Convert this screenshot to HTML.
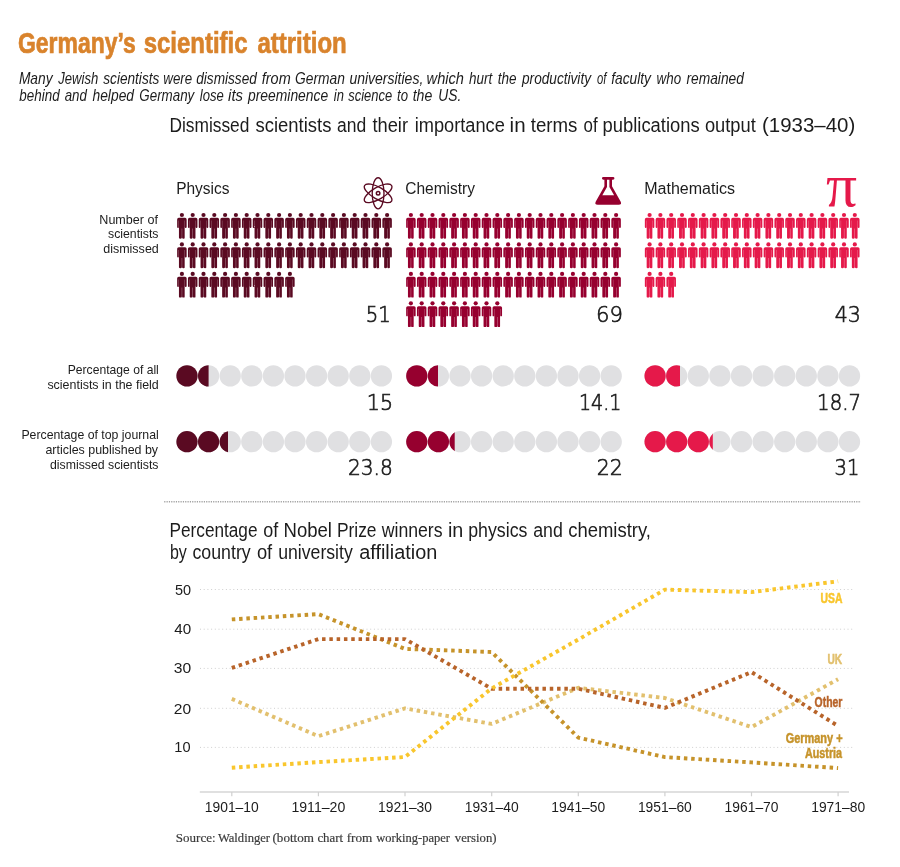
<!DOCTYPE html>
<html lang="en"><head><meta charset="utf-8"><title>Germany’s scientific attrition</title>
<style>
html,body{margin:0;padding:0;background:#fff}
svg{display:block}
text{white-space:pre}
</style></head>
<body>
<svg width="900" height="867" viewBox="0 0 900 867">
<rect width="900" height="867" fill="#fff"/>
<text y="52.9" font-size="29.8" fill="#d9832c" font-weight="bold" font-family="'Liberation Sans', sans-serif" stroke="#d9832c" stroke-width="0.7"><tspan x="18.0" textLength="117.8" lengthAdjust="spacingAndGlyphs">Germany’s</tspan> <tspan x="143.7" textLength="103.9" lengthAdjust="spacingAndGlyphs">scientific</tspan> <tspan x="257.4" textLength="89.4" lengthAdjust="spacingAndGlyphs">attrition</tspan></text>
<text y="84.2" font-size="15.7" fill="#1c1c1c" font-style="italic" font-family="'Liberation Sans', sans-serif"><tspan x="18.9" textLength="33.7" lengthAdjust="spacingAndGlyphs">Many</tspan> <tspan x="58.3" textLength="40.0" lengthAdjust="spacingAndGlyphs">Jewish</tspan> <tspan x="103.3" textLength="56.0" lengthAdjust="spacingAndGlyphs">scientists</tspan> <tspan x="163.3" textLength="28.9" lengthAdjust="spacingAndGlyphs">were</tspan> <tspan x="196.2" textLength="60.7" lengthAdjust="spacingAndGlyphs">dismissed</tspan> <tspan x="261.8" textLength="28.9" lengthAdjust="spacingAndGlyphs">from</tspan> <tspan x="295.1" textLength="49.8" lengthAdjust="spacingAndGlyphs">German</tspan> <tspan x="349.4" textLength="73.9" lengthAdjust="spacingAndGlyphs">universities,</tspan> <tspan x="426.6" textLength="37.4" lengthAdjust="spacingAndGlyphs">which</tspan> <tspan x="469.1" textLength="23.2" lengthAdjust="spacingAndGlyphs">hurt</tspan> <tspan x="497.7" textLength="18.8" lengthAdjust="spacingAndGlyphs">the</tspan> <tspan x="522.0" textLength="69.0" lengthAdjust="spacingAndGlyphs">productivity</tspan> <tspan x="596.9" textLength="9.4" lengthAdjust="spacingAndGlyphs">of</tspan> <tspan x="611.2" textLength="39.8" lengthAdjust="spacingAndGlyphs">faculty</tspan> <tspan x="656.6" textLength="24.5" lengthAdjust="spacingAndGlyphs">who</tspan> <tspan x="686.5" textLength="57.4" lengthAdjust="spacingAndGlyphs">remained</tspan></text>
<text y="100.8" font-size="15.7" fill="#1c1c1c" font-style="italic" font-family="'Liberation Sans', sans-serif"><tspan x="19.3" textLength="40.3" lengthAdjust="spacingAndGlyphs">behind</tspan> <tspan x="64.7" textLength="22.2" lengthAdjust="spacingAndGlyphs">and</tspan> <tspan x="92.5" textLength="41.5" lengthAdjust="spacingAndGlyphs">helped</tspan> <tspan x="139.3" textLength="55.0" lengthAdjust="spacingAndGlyphs">Germany</tspan> <tspan x="199.8" textLength="24.0" lengthAdjust="spacingAndGlyphs">lose</tspan> <tspan x="228.1" textLength="14.9" lengthAdjust="spacingAndGlyphs">its</tspan> <tspan x="248.0" textLength="80.2" lengthAdjust="spacingAndGlyphs">preeminence</tspan> <tspan x="333.8" textLength="10.1" lengthAdjust="spacingAndGlyphs">in</tspan> <tspan x="348.3" textLength="43.9" lengthAdjust="spacingAndGlyphs">science</tspan> <tspan x="397.1" textLength="11.0" lengthAdjust="spacingAndGlyphs">to</tspan> <tspan x="412.7" textLength="19.6" lengthAdjust="spacingAndGlyphs">the</tspan> <tspan x="438.3" textLength="23.0" lengthAdjust="spacingAndGlyphs">US.</tspan></text>
<text y="132.2" font-size="20" fill="#1c1c1c" font-family="'Liberation Sans', sans-serif"><tspan x="169.4" textLength="80.0" lengthAdjust="spacingAndGlyphs">Dismissed</tspan> <tspan x="255.5" textLength="75.9" lengthAdjust="spacingAndGlyphs">scientists</tspan> <tspan x="337.0" textLength="29.2" lengthAdjust="spacingAndGlyphs">and</tspan> <tspan x="372.4" textLength="35.6" lengthAdjust="spacingAndGlyphs">their</tspan> <tspan x="414.7" textLength="90.1" lengthAdjust="spacingAndGlyphs">importance</tspan> <tspan x="509.6" textLength="16.0" lengthAdjust="spacingAndGlyphs">in</tspan> <tspan x="530.7" textLength="46.7" lengthAdjust="spacingAndGlyphs">terms</tspan> <tspan x="583.6" textLength="14.1" lengthAdjust="spacingAndGlyphs">of</tspan> <tspan x="602.5" textLength="97.2" lengthAdjust="spacingAndGlyphs">publications</tspan> <tspan x="704.9" textLength="50.9" lengthAdjust="spacingAndGlyphs">output</tspan> <tspan x="762.0" textLength="93.2" lengthAdjust="spacingAndGlyphs">(1933–40)</tspan></text>
<text x="176.2" y="193.7" font-size="15.8" fill="#1c1c1c" font-family="'Liberation Sans', sans-serif" textLength="53.3" lengthAdjust="spacingAndGlyphs">Physics</text>
<text x="405.2" y="193.7" font-size="15.8" fill="#1c1c1c" font-family="'Liberation Sans', sans-serif" textLength="69.8" lengthAdjust="spacingAndGlyphs">Chemistry</text>
<text x="644.2" y="193.7" font-size="15.8" fill="#1c1c1c" font-family="'Liberation Sans', sans-serif" textLength="90.9" lengthAdjust="spacingAndGlyphs">Mathematics</text>
<text x="99.3" y="223.6" font-size="13" fill="#1c1c1c" font-family="'Liberation Sans', sans-serif" textLength="58.7" lengthAdjust="spacingAndGlyphs">Number of</text>
<text x="108.0" y="237.7" font-size="13" fill="#1c1c1c" font-family="'Liberation Sans', sans-serif" textLength="50.5" lengthAdjust="spacingAndGlyphs">scientists</text>
<text x="103.2" y="252.6" font-size="13" fill="#1c1c1c" font-family="'Liberation Sans', sans-serif" textLength="55.6" lengthAdjust="spacingAndGlyphs">dismissed</text>
<text x="67.7" y="374.2" font-size="13" fill="#1c1c1c" font-family="'Liberation Sans', sans-serif" textLength="91.1" lengthAdjust="spacingAndGlyphs">Percentage of all</text>
<text x="47.4" y="388.5" font-size="13" fill="#1c1c1c" font-family="'Liberation Sans', sans-serif" textLength="111.4" lengthAdjust="spacingAndGlyphs">scientists in the field</text>
<text x="21.4" y="439.4" font-size="13" fill="#1c1c1c" font-family="'Liberation Sans', sans-serif" textLength="137.4" lengthAdjust="spacingAndGlyphs">Percentage of top journal</text>
<text x="45.4" y="454.1" font-size="13" fill="#1c1c1c" font-family="'Liberation Sans', sans-serif" textLength="112.7" lengthAdjust="spacingAndGlyphs">articles published by</text>
<text x="50.0" y="468.8" font-size="13" fill="#1c1c1c" font-family="'Liberation Sans', sans-serif" textLength="108.5" lengthAdjust="spacingAndGlyphs">dismissed scientists</text>
<g fill="#5a0a22">
<circle cx="181.90" cy="215.00" r="2.1"/><path d="M178.75 217.80H185.05Q186.65 217.80 186.65 219.40V227.10Q186.65 228.00 185.75 228.00Q184.85 228.00 184.85 227.10V220.60h-0.18V237.80Q184.85 238.70 183.50 238.70Q182.10 238.70 182.10 237.80V228.60h-0.25V237.80Q181.70 238.70 180.30 238.70Q178.95 238.70 178.95 237.80V220.60h-0.18V227.10Q178.95 228.00 178.05 228.00Q177.15 228.00 177.15 227.10V219.40Q177.15 217.80 178.75 217.80Z"/>
<circle cx="192.70" cy="215.00" r="2.1"/><path d="M189.55 217.80H195.85Q197.45 217.80 197.45 219.40V227.10Q197.45 228.00 196.55 228.00Q195.65 228.00 195.65 227.10V220.60h-0.18V237.80Q195.65 238.70 194.30 238.70Q192.90 238.70 192.90 237.80V228.60h-0.25V237.80Q192.50 238.70 191.10 238.70Q189.75 238.70 189.75 237.80V220.60h-0.18V227.10Q189.75 228.00 188.85 228.00Q187.95 228.00 187.95 227.10V219.40Q187.95 217.80 189.55 217.80Z"/>
<circle cx="203.50" cy="215.00" r="2.1"/><path d="M200.35 217.80H206.65Q208.25 217.80 208.25 219.40V227.10Q208.25 228.00 207.35 228.00Q206.45 228.00 206.45 227.10V220.60h-0.18V237.80Q206.45 238.70 205.10 238.70Q203.70 238.70 203.70 237.80V228.60h-0.25V237.80Q203.30 238.70 201.90 238.70Q200.55 238.70 200.55 237.80V220.60h-0.18V227.10Q200.55 228.00 199.65 228.00Q198.75 228.00 198.75 227.10V219.40Q198.75 217.80 200.35 217.80Z"/>
<circle cx="214.30" cy="215.00" r="2.1"/><path d="M211.15 217.80H217.45Q219.05 217.80 219.05 219.40V227.10Q219.05 228.00 218.15 228.00Q217.25 228.00 217.25 227.10V220.60h-0.18V237.80Q217.25 238.70 215.90 238.70Q214.50 238.70 214.50 237.80V228.60h-0.25V237.80Q214.10 238.70 212.70 238.70Q211.35 238.70 211.35 237.80V220.60h-0.18V227.10Q211.35 228.00 210.45 228.00Q209.55 228.00 209.55 227.10V219.40Q209.55 217.80 211.15 217.80Z"/>
<circle cx="225.10" cy="215.00" r="2.1"/><path d="M221.95 217.80H228.25Q229.85 217.80 229.85 219.40V227.10Q229.85 228.00 228.95 228.00Q228.05 228.00 228.05 227.10V220.60h-0.18V237.80Q228.05 238.70 226.70 238.70Q225.30 238.70 225.30 237.80V228.60h-0.25V237.80Q224.90 238.70 223.50 238.70Q222.15 238.70 222.15 237.80V220.60h-0.18V227.10Q222.15 228.00 221.25 228.00Q220.35 228.00 220.35 227.10V219.40Q220.35 217.80 221.95 217.80Z"/>
<circle cx="235.90" cy="215.00" r="2.1"/><path d="M232.75 217.80H239.05Q240.65 217.80 240.65 219.40V227.10Q240.65 228.00 239.75 228.00Q238.85 228.00 238.85 227.10V220.60h-0.18V237.80Q238.85 238.70 237.50 238.70Q236.10 238.70 236.10 237.80V228.60h-0.25V237.80Q235.70 238.70 234.30 238.70Q232.95 238.70 232.95 237.80V220.60h-0.18V227.10Q232.95 228.00 232.05 228.00Q231.15 228.00 231.15 227.10V219.40Q231.15 217.80 232.75 217.80Z"/>
<circle cx="246.70" cy="215.00" r="2.1"/><path d="M243.55 217.80H249.85Q251.45 217.80 251.45 219.40V227.10Q251.45 228.00 250.55 228.00Q249.65 228.00 249.65 227.10V220.60h-0.18V237.80Q249.65 238.70 248.30 238.70Q246.90 238.70 246.90 237.80V228.60h-0.25V237.80Q246.50 238.70 245.10 238.70Q243.75 238.70 243.75 237.80V220.60h-0.18V227.10Q243.75 228.00 242.85 228.00Q241.95 228.00 241.95 227.10V219.40Q241.95 217.80 243.55 217.80Z"/>
<circle cx="257.50" cy="215.00" r="2.1"/><path d="M254.35 217.80H260.65Q262.25 217.80 262.25 219.40V227.10Q262.25 228.00 261.35 228.00Q260.45 228.00 260.45 227.10V220.60h-0.18V237.80Q260.45 238.70 259.10 238.70Q257.70 238.70 257.70 237.80V228.60h-0.25V237.80Q257.30 238.70 255.90 238.70Q254.55 238.70 254.55 237.80V220.60h-0.18V227.10Q254.55 228.00 253.65 228.00Q252.75 228.00 252.75 227.10V219.40Q252.75 217.80 254.35 217.80Z"/>
<circle cx="268.30" cy="215.00" r="2.1"/><path d="M265.15 217.80H271.45Q273.05 217.80 273.05 219.40V227.10Q273.05 228.00 272.15 228.00Q271.25 228.00 271.25 227.10V220.60h-0.18V237.80Q271.25 238.70 269.90 238.70Q268.50 238.70 268.50 237.80V228.60h-0.25V237.80Q268.10 238.70 266.70 238.70Q265.35 238.70 265.35 237.80V220.60h-0.18V227.10Q265.35 228.00 264.45 228.00Q263.55 228.00 263.55 227.10V219.40Q263.55 217.80 265.15 217.80Z"/>
<circle cx="279.10" cy="215.00" r="2.1"/><path d="M275.95 217.80H282.25Q283.85 217.80 283.85 219.40V227.10Q283.85 228.00 282.95 228.00Q282.05 228.00 282.05 227.10V220.60h-0.18V237.80Q282.05 238.70 280.70 238.70Q279.30 238.70 279.30 237.80V228.60h-0.25V237.80Q278.90 238.70 277.50 238.70Q276.15 238.70 276.15 237.80V220.60h-0.18V227.10Q276.15 228.00 275.25 228.00Q274.35 228.00 274.35 227.10V219.40Q274.35 217.80 275.95 217.80Z"/>
<circle cx="289.90" cy="215.00" r="2.1"/><path d="M286.75 217.80H293.05Q294.65 217.80 294.65 219.40V227.10Q294.65 228.00 293.75 228.00Q292.85 228.00 292.85 227.10V220.60h-0.18V237.80Q292.85 238.70 291.50 238.70Q290.10 238.70 290.10 237.80V228.60h-0.25V237.80Q289.70 238.70 288.30 238.70Q286.95 238.70 286.95 237.80V220.60h-0.18V227.10Q286.95 228.00 286.05 228.00Q285.15 228.00 285.15 227.10V219.40Q285.15 217.80 286.75 217.80Z"/>
<circle cx="300.70" cy="215.00" r="2.1"/><path d="M297.55 217.80H303.85Q305.45 217.80 305.45 219.40V227.10Q305.45 228.00 304.55 228.00Q303.65 228.00 303.65 227.10V220.60h-0.18V237.80Q303.65 238.70 302.30 238.70Q300.90 238.70 300.90 237.80V228.60h-0.25V237.80Q300.50 238.70 299.10 238.70Q297.75 238.70 297.75 237.80V220.60h-0.18V227.10Q297.75 228.00 296.85 228.00Q295.95 228.00 295.95 227.10V219.40Q295.95 217.80 297.55 217.80Z"/>
<circle cx="311.50" cy="215.00" r="2.1"/><path d="M308.35 217.80H314.65Q316.25 217.80 316.25 219.40V227.10Q316.25 228.00 315.35 228.00Q314.45 228.00 314.45 227.10V220.60h-0.18V237.80Q314.45 238.70 313.10 238.70Q311.70 238.70 311.70 237.80V228.60h-0.25V237.80Q311.30 238.70 309.90 238.70Q308.55 238.70 308.55 237.80V220.60h-0.18V227.10Q308.55 228.00 307.65 228.00Q306.75 228.00 306.75 227.10V219.40Q306.75 217.80 308.35 217.80Z"/>
<circle cx="322.30" cy="215.00" r="2.1"/><path d="M319.15 217.80H325.45Q327.05 217.80 327.05 219.40V227.10Q327.05 228.00 326.15 228.00Q325.25 228.00 325.25 227.10V220.60h-0.18V237.80Q325.25 238.70 323.90 238.70Q322.50 238.70 322.50 237.80V228.60h-0.25V237.80Q322.10 238.70 320.70 238.70Q319.35 238.70 319.35 237.80V220.60h-0.18V227.10Q319.35 228.00 318.45 228.00Q317.55 228.00 317.55 227.10V219.40Q317.55 217.80 319.15 217.80Z"/>
<circle cx="333.10" cy="215.00" r="2.1"/><path d="M329.95 217.80H336.25Q337.85 217.80 337.85 219.40V227.10Q337.85 228.00 336.95 228.00Q336.05 228.00 336.05 227.10V220.60h-0.18V237.80Q336.05 238.70 334.70 238.70Q333.30 238.70 333.30 237.80V228.60h-0.25V237.80Q332.90 238.70 331.50 238.70Q330.15 238.70 330.15 237.80V220.60h-0.18V227.10Q330.15 228.00 329.25 228.00Q328.35 228.00 328.35 227.10V219.40Q328.35 217.80 329.95 217.80Z"/>
<circle cx="343.90" cy="215.00" r="2.1"/><path d="M340.75 217.80H347.05Q348.65 217.80 348.65 219.40V227.10Q348.65 228.00 347.75 228.00Q346.85 228.00 346.85 227.10V220.60h-0.18V237.80Q346.85 238.70 345.50 238.70Q344.10 238.70 344.10 237.80V228.60h-0.25V237.80Q343.70 238.70 342.30 238.70Q340.95 238.70 340.95 237.80V220.60h-0.18V227.10Q340.95 228.00 340.05 228.00Q339.15 228.00 339.15 227.10V219.40Q339.15 217.80 340.75 217.80Z"/>
<circle cx="354.70" cy="215.00" r="2.1"/><path d="M351.55 217.80H357.85Q359.45 217.80 359.45 219.40V227.10Q359.45 228.00 358.55 228.00Q357.65 228.00 357.65 227.10V220.60h-0.18V237.80Q357.65 238.70 356.30 238.70Q354.90 238.70 354.90 237.80V228.60h-0.25V237.80Q354.50 238.70 353.10 238.70Q351.75 238.70 351.75 237.80V220.60h-0.18V227.10Q351.75 228.00 350.85 228.00Q349.95 228.00 349.95 227.10V219.40Q349.95 217.80 351.55 217.80Z"/>
<circle cx="365.50" cy="215.00" r="2.1"/><path d="M362.35 217.80H368.65Q370.25 217.80 370.25 219.40V227.10Q370.25 228.00 369.35 228.00Q368.45 228.00 368.45 227.10V220.60h-0.18V237.80Q368.45 238.70 367.10 238.70Q365.70 238.70 365.70 237.80V228.60h-0.25V237.80Q365.30 238.70 363.90 238.70Q362.55 238.70 362.55 237.80V220.60h-0.18V227.10Q362.55 228.00 361.65 228.00Q360.75 228.00 360.75 227.10V219.40Q360.75 217.80 362.35 217.80Z"/>
<circle cx="376.30" cy="215.00" r="2.1"/><path d="M373.15 217.80H379.45Q381.05 217.80 381.05 219.40V227.10Q381.05 228.00 380.15 228.00Q379.25 228.00 379.25 227.10V220.60h-0.18V237.80Q379.25 238.70 377.90 238.70Q376.50 238.70 376.50 237.80V228.60h-0.25V237.80Q376.10 238.70 374.70 238.70Q373.35 238.70 373.35 237.80V220.60h-0.18V227.10Q373.35 228.00 372.45 228.00Q371.55 228.00 371.55 227.10V219.40Q371.55 217.80 373.15 217.80Z"/>
<circle cx="387.10" cy="215.00" r="2.1"/><path d="M383.95 217.80H390.25Q391.85 217.80 391.85 219.40V227.10Q391.85 228.00 390.95 228.00Q390.05 228.00 390.05 227.10V220.60h-0.18V237.80Q390.05 238.70 388.70 238.70Q387.30 238.70 387.30 237.80V228.60h-0.25V237.80Q386.90 238.70 385.50 238.70Q384.15 238.70 384.15 237.80V220.60h-0.18V227.10Q384.15 228.00 383.25 228.00Q382.35 228.00 382.35 227.10V219.40Q382.35 217.80 383.95 217.80Z"/>
<circle cx="181.90" cy="244.45" r="2.1"/><path d="M178.75 247.25H185.05Q186.65 247.25 186.65 248.85V256.55Q186.65 257.45 185.75 257.45Q184.85 257.45 184.85 256.55V250.05h-0.18V267.25Q184.85 268.15 183.50 268.15Q182.10 268.15 182.10 267.25V258.05h-0.25V267.25Q181.70 268.15 180.30 268.15Q178.95 268.15 178.95 267.25V250.05h-0.18V256.55Q178.95 257.45 178.05 257.45Q177.15 257.45 177.15 256.55V248.85Q177.15 247.25 178.75 247.25Z"/>
<circle cx="192.70" cy="244.45" r="2.1"/><path d="M189.55 247.25H195.85Q197.45 247.25 197.45 248.85V256.55Q197.45 257.45 196.55 257.45Q195.65 257.45 195.65 256.55V250.05h-0.18V267.25Q195.65 268.15 194.30 268.15Q192.90 268.15 192.90 267.25V258.05h-0.25V267.25Q192.50 268.15 191.10 268.15Q189.75 268.15 189.75 267.25V250.05h-0.18V256.55Q189.75 257.45 188.85 257.45Q187.95 257.45 187.95 256.55V248.85Q187.95 247.25 189.55 247.25Z"/>
<circle cx="203.50" cy="244.45" r="2.1"/><path d="M200.35 247.25H206.65Q208.25 247.25 208.25 248.85V256.55Q208.25 257.45 207.35 257.45Q206.45 257.45 206.45 256.55V250.05h-0.18V267.25Q206.45 268.15 205.10 268.15Q203.70 268.15 203.70 267.25V258.05h-0.25V267.25Q203.30 268.15 201.90 268.15Q200.55 268.15 200.55 267.25V250.05h-0.18V256.55Q200.55 257.45 199.65 257.45Q198.75 257.45 198.75 256.55V248.85Q198.75 247.25 200.35 247.25Z"/>
<circle cx="214.30" cy="244.45" r="2.1"/><path d="M211.15 247.25H217.45Q219.05 247.25 219.05 248.85V256.55Q219.05 257.45 218.15 257.45Q217.25 257.45 217.25 256.55V250.05h-0.18V267.25Q217.25 268.15 215.90 268.15Q214.50 268.15 214.50 267.25V258.05h-0.25V267.25Q214.10 268.15 212.70 268.15Q211.35 268.15 211.35 267.25V250.05h-0.18V256.55Q211.35 257.45 210.45 257.45Q209.55 257.45 209.55 256.55V248.85Q209.55 247.25 211.15 247.25Z"/>
<circle cx="225.10" cy="244.45" r="2.1"/><path d="M221.95 247.25H228.25Q229.85 247.25 229.85 248.85V256.55Q229.85 257.45 228.95 257.45Q228.05 257.45 228.05 256.55V250.05h-0.18V267.25Q228.05 268.15 226.70 268.15Q225.30 268.15 225.30 267.25V258.05h-0.25V267.25Q224.90 268.15 223.50 268.15Q222.15 268.15 222.15 267.25V250.05h-0.18V256.55Q222.15 257.45 221.25 257.45Q220.35 257.45 220.35 256.55V248.85Q220.35 247.25 221.95 247.25Z"/>
<circle cx="235.90" cy="244.45" r="2.1"/><path d="M232.75 247.25H239.05Q240.65 247.25 240.65 248.85V256.55Q240.65 257.45 239.75 257.45Q238.85 257.45 238.85 256.55V250.05h-0.18V267.25Q238.85 268.15 237.50 268.15Q236.10 268.15 236.10 267.25V258.05h-0.25V267.25Q235.70 268.15 234.30 268.15Q232.95 268.15 232.95 267.25V250.05h-0.18V256.55Q232.95 257.45 232.05 257.45Q231.15 257.45 231.15 256.55V248.85Q231.15 247.25 232.75 247.25Z"/>
<circle cx="246.70" cy="244.45" r="2.1"/><path d="M243.55 247.25H249.85Q251.45 247.25 251.45 248.85V256.55Q251.45 257.45 250.55 257.45Q249.65 257.45 249.65 256.55V250.05h-0.18V267.25Q249.65 268.15 248.30 268.15Q246.90 268.15 246.90 267.25V258.05h-0.25V267.25Q246.50 268.15 245.10 268.15Q243.75 268.15 243.75 267.25V250.05h-0.18V256.55Q243.75 257.45 242.85 257.45Q241.95 257.45 241.95 256.55V248.85Q241.95 247.25 243.55 247.25Z"/>
<circle cx="257.50" cy="244.45" r="2.1"/><path d="M254.35 247.25H260.65Q262.25 247.25 262.25 248.85V256.55Q262.25 257.45 261.35 257.45Q260.45 257.45 260.45 256.55V250.05h-0.18V267.25Q260.45 268.15 259.10 268.15Q257.70 268.15 257.70 267.25V258.05h-0.25V267.25Q257.30 268.15 255.90 268.15Q254.55 268.15 254.55 267.25V250.05h-0.18V256.55Q254.55 257.45 253.65 257.45Q252.75 257.45 252.75 256.55V248.85Q252.75 247.25 254.35 247.25Z"/>
<circle cx="268.30" cy="244.45" r="2.1"/><path d="M265.15 247.25H271.45Q273.05 247.25 273.05 248.85V256.55Q273.05 257.45 272.15 257.45Q271.25 257.45 271.25 256.55V250.05h-0.18V267.25Q271.25 268.15 269.90 268.15Q268.50 268.15 268.50 267.25V258.05h-0.25V267.25Q268.10 268.15 266.70 268.15Q265.35 268.15 265.35 267.25V250.05h-0.18V256.55Q265.35 257.45 264.45 257.45Q263.55 257.45 263.55 256.55V248.85Q263.55 247.25 265.15 247.25Z"/>
<circle cx="279.10" cy="244.45" r="2.1"/><path d="M275.95 247.25H282.25Q283.85 247.25 283.85 248.85V256.55Q283.85 257.45 282.95 257.45Q282.05 257.45 282.05 256.55V250.05h-0.18V267.25Q282.05 268.15 280.70 268.15Q279.30 268.15 279.30 267.25V258.05h-0.25V267.25Q278.90 268.15 277.50 268.15Q276.15 268.15 276.15 267.25V250.05h-0.18V256.55Q276.15 257.45 275.25 257.45Q274.35 257.45 274.35 256.55V248.85Q274.35 247.25 275.95 247.25Z"/>
<circle cx="289.90" cy="244.45" r="2.1"/><path d="M286.75 247.25H293.05Q294.65 247.25 294.65 248.85V256.55Q294.65 257.45 293.75 257.45Q292.85 257.45 292.85 256.55V250.05h-0.18V267.25Q292.85 268.15 291.50 268.15Q290.10 268.15 290.10 267.25V258.05h-0.25V267.25Q289.70 268.15 288.30 268.15Q286.95 268.15 286.95 267.25V250.05h-0.18V256.55Q286.95 257.45 286.05 257.45Q285.15 257.45 285.15 256.55V248.85Q285.15 247.25 286.75 247.25Z"/>
<circle cx="300.70" cy="244.45" r="2.1"/><path d="M297.55 247.25H303.85Q305.45 247.25 305.45 248.85V256.55Q305.45 257.45 304.55 257.45Q303.65 257.45 303.65 256.55V250.05h-0.18V267.25Q303.65 268.15 302.30 268.15Q300.90 268.15 300.90 267.25V258.05h-0.25V267.25Q300.50 268.15 299.10 268.15Q297.75 268.15 297.75 267.25V250.05h-0.18V256.55Q297.75 257.45 296.85 257.45Q295.95 257.45 295.95 256.55V248.85Q295.95 247.25 297.55 247.25Z"/>
<circle cx="311.50" cy="244.45" r="2.1"/><path d="M308.35 247.25H314.65Q316.25 247.25 316.25 248.85V256.55Q316.25 257.45 315.35 257.45Q314.45 257.45 314.45 256.55V250.05h-0.18V267.25Q314.45 268.15 313.10 268.15Q311.70 268.15 311.70 267.25V258.05h-0.25V267.25Q311.30 268.15 309.90 268.15Q308.55 268.15 308.55 267.25V250.05h-0.18V256.55Q308.55 257.45 307.65 257.45Q306.75 257.45 306.75 256.55V248.85Q306.75 247.25 308.35 247.25Z"/>
<circle cx="322.30" cy="244.45" r="2.1"/><path d="M319.15 247.25H325.45Q327.05 247.25 327.05 248.85V256.55Q327.05 257.45 326.15 257.45Q325.25 257.45 325.25 256.55V250.05h-0.18V267.25Q325.25 268.15 323.90 268.15Q322.50 268.15 322.50 267.25V258.05h-0.25V267.25Q322.10 268.15 320.70 268.15Q319.35 268.15 319.35 267.25V250.05h-0.18V256.55Q319.35 257.45 318.45 257.45Q317.55 257.45 317.55 256.55V248.85Q317.55 247.25 319.15 247.25Z"/>
<circle cx="333.10" cy="244.45" r="2.1"/><path d="M329.95 247.25H336.25Q337.85 247.25 337.85 248.85V256.55Q337.85 257.45 336.95 257.45Q336.05 257.45 336.05 256.55V250.05h-0.18V267.25Q336.05 268.15 334.70 268.15Q333.30 268.15 333.30 267.25V258.05h-0.25V267.25Q332.90 268.15 331.50 268.15Q330.15 268.15 330.15 267.25V250.05h-0.18V256.55Q330.15 257.45 329.25 257.45Q328.35 257.45 328.35 256.55V248.85Q328.35 247.25 329.95 247.25Z"/>
<circle cx="343.90" cy="244.45" r="2.1"/><path d="M340.75 247.25H347.05Q348.65 247.25 348.65 248.85V256.55Q348.65 257.45 347.75 257.45Q346.85 257.45 346.85 256.55V250.05h-0.18V267.25Q346.85 268.15 345.50 268.15Q344.10 268.15 344.10 267.25V258.05h-0.25V267.25Q343.70 268.15 342.30 268.15Q340.95 268.15 340.95 267.25V250.05h-0.18V256.55Q340.95 257.45 340.05 257.45Q339.15 257.45 339.15 256.55V248.85Q339.15 247.25 340.75 247.25Z"/>
<circle cx="354.70" cy="244.45" r="2.1"/><path d="M351.55 247.25H357.85Q359.45 247.25 359.45 248.85V256.55Q359.45 257.45 358.55 257.45Q357.65 257.45 357.65 256.55V250.05h-0.18V267.25Q357.65 268.15 356.30 268.15Q354.90 268.15 354.90 267.25V258.05h-0.25V267.25Q354.50 268.15 353.10 268.15Q351.75 268.15 351.75 267.25V250.05h-0.18V256.55Q351.75 257.45 350.85 257.45Q349.95 257.45 349.95 256.55V248.85Q349.95 247.25 351.55 247.25Z"/>
<circle cx="365.50" cy="244.45" r="2.1"/><path d="M362.35 247.25H368.65Q370.25 247.25 370.25 248.85V256.55Q370.25 257.45 369.35 257.45Q368.45 257.45 368.45 256.55V250.05h-0.18V267.25Q368.45 268.15 367.10 268.15Q365.70 268.15 365.70 267.25V258.05h-0.25V267.25Q365.30 268.15 363.90 268.15Q362.55 268.15 362.55 267.25V250.05h-0.18V256.55Q362.55 257.45 361.65 257.45Q360.75 257.45 360.75 256.55V248.85Q360.75 247.25 362.35 247.25Z"/>
<circle cx="376.30" cy="244.45" r="2.1"/><path d="M373.15 247.25H379.45Q381.05 247.25 381.05 248.85V256.55Q381.05 257.45 380.15 257.45Q379.25 257.45 379.25 256.55V250.05h-0.18V267.25Q379.25 268.15 377.90 268.15Q376.50 268.15 376.50 267.25V258.05h-0.25V267.25Q376.10 268.15 374.70 268.15Q373.35 268.15 373.35 267.25V250.05h-0.18V256.55Q373.35 257.45 372.45 257.45Q371.55 257.45 371.55 256.55V248.85Q371.55 247.25 373.15 247.25Z"/>
<circle cx="387.10" cy="244.45" r="2.1"/><path d="M383.95 247.25H390.25Q391.85 247.25 391.85 248.85V256.55Q391.85 257.45 390.95 257.45Q390.05 257.45 390.05 256.55V250.05h-0.18V267.25Q390.05 268.15 388.70 268.15Q387.30 268.15 387.30 267.25V258.05h-0.25V267.25Q386.90 268.15 385.50 268.15Q384.15 268.15 384.15 267.25V250.05h-0.18V256.55Q384.15 257.45 383.25 257.45Q382.35 257.45 382.35 256.55V248.85Q382.35 247.25 383.95 247.25Z"/>
<circle cx="181.90" cy="273.90" r="2.1"/><path d="M178.75 276.70H185.05Q186.65 276.70 186.65 278.30V286.00Q186.65 286.90 185.75 286.90Q184.85 286.90 184.85 286.00V279.50h-0.18V296.70Q184.85 297.60 183.50 297.60Q182.10 297.60 182.10 296.70V287.50h-0.25V296.70Q181.70 297.60 180.30 297.60Q178.95 297.60 178.95 296.70V279.50h-0.18V286.00Q178.95 286.90 178.05 286.90Q177.15 286.90 177.15 286.00V278.30Q177.15 276.70 178.75 276.70Z"/>
<circle cx="192.70" cy="273.90" r="2.1"/><path d="M189.55 276.70H195.85Q197.45 276.70 197.45 278.30V286.00Q197.45 286.90 196.55 286.90Q195.65 286.90 195.65 286.00V279.50h-0.18V296.70Q195.65 297.60 194.30 297.60Q192.90 297.60 192.90 296.70V287.50h-0.25V296.70Q192.50 297.60 191.10 297.60Q189.75 297.60 189.75 296.70V279.50h-0.18V286.00Q189.75 286.90 188.85 286.90Q187.95 286.90 187.95 286.00V278.30Q187.95 276.70 189.55 276.70Z"/>
<circle cx="203.50" cy="273.90" r="2.1"/><path d="M200.35 276.70H206.65Q208.25 276.70 208.25 278.30V286.00Q208.25 286.90 207.35 286.90Q206.45 286.90 206.45 286.00V279.50h-0.18V296.70Q206.45 297.60 205.10 297.60Q203.70 297.60 203.70 296.70V287.50h-0.25V296.70Q203.30 297.60 201.90 297.60Q200.55 297.60 200.55 296.70V279.50h-0.18V286.00Q200.55 286.90 199.65 286.90Q198.75 286.90 198.75 286.00V278.30Q198.75 276.70 200.35 276.70Z"/>
<circle cx="214.30" cy="273.90" r="2.1"/><path d="M211.15 276.70H217.45Q219.05 276.70 219.05 278.30V286.00Q219.05 286.90 218.15 286.90Q217.25 286.90 217.25 286.00V279.50h-0.18V296.70Q217.25 297.60 215.90 297.60Q214.50 297.60 214.50 296.70V287.50h-0.25V296.70Q214.10 297.60 212.70 297.60Q211.35 297.60 211.35 296.70V279.50h-0.18V286.00Q211.35 286.90 210.45 286.90Q209.55 286.90 209.55 286.00V278.30Q209.55 276.70 211.15 276.70Z"/>
<circle cx="225.10" cy="273.90" r="2.1"/><path d="M221.95 276.70H228.25Q229.85 276.70 229.85 278.30V286.00Q229.85 286.90 228.95 286.90Q228.05 286.90 228.05 286.00V279.50h-0.18V296.70Q228.05 297.60 226.70 297.60Q225.30 297.60 225.30 296.70V287.50h-0.25V296.70Q224.90 297.60 223.50 297.60Q222.15 297.60 222.15 296.70V279.50h-0.18V286.00Q222.15 286.90 221.25 286.90Q220.35 286.90 220.35 286.00V278.30Q220.35 276.70 221.95 276.70Z"/>
<circle cx="235.90" cy="273.90" r="2.1"/><path d="M232.75 276.70H239.05Q240.65 276.70 240.65 278.30V286.00Q240.65 286.90 239.75 286.90Q238.85 286.90 238.85 286.00V279.50h-0.18V296.70Q238.85 297.60 237.50 297.60Q236.10 297.60 236.10 296.70V287.50h-0.25V296.70Q235.70 297.60 234.30 297.60Q232.95 297.60 232.95 296.70V279.50h-0.18V286.00Q232.95 286.90 232.05 286.90Q231.15 286.90 231.15 286.00V278.30Q231.15 276.70 232.75 276.70Z"/>
<circle cx="246.70" cy="273.90" r="2.1"/><path d="M243.55 276.70H249.85Q251.45 276.70 251.45 278.30V286.00Q251.45 286.90 250.55 286.90Q249.65 286.90 249.65 286.00V279.50h-0.18V296.70Q249.65 297.60 248.30 297.60Q246.90 297.60 246.90 296.70V287.50h-0.25V296.70Q246.50 297.60 245.10 297.60Q243.75 297.60 243.75 296.70V279.50h-0.18V286.00Q243.75 286.90 242.85 286.90Q241.95 286.90 241.95 286.00V278.30Q241.95 276.70 243.55 276.70Z"/>
<circle cx="257.50" cy="273.90" r="2.1"/><path d="M254.35 276.70H260.65Q262.25 276.70 262.25 278.30V286.00Q262.25 286.90 261.35 286.90Q260.45 286.90 260.45 286.00V279.50h-0.18V296.70Q260.45 297.60 259.10 297.60Q257.70 297.60 257.70 296.70V287.50h-0.25V296.70Q257.30 297.60 255.90 297.60Q254.55 297.60 254.55 296.70V279.50h-0.18V286.00Q254.55 286.90 253.65 286.90Q252.75 286.90 252.75 286.00V278.30Q252.75 276.70 254.35 276.70Z"/>
<circle cx="268.30" cy="273.90" r="2.1"/><path d="M265.15 276.70H271.45Q273.05 276.70 273.05 278.30V286.00Q273.05 286.90 272.15 286.90Q271.25 286.90 271.25 286.00V279.50h-0.18V296.70Q271.25 297.60 269.90 297.60Q268.50 297.60 268.50 296.70V287.50h-0.25V296.70Q268.10 297.60 266.70 297.60Q265.35 297.60 265.35 296.70V279.50h-0.18V286.00Q265.35 286.90 264.45 286.90Q263.55 286.90 263.55 286.00V278.30Q263.55 276.70 265.15 276.70Z"/>
<circle cx="279.10" cy="273.90" r="2.1"/><path d="M275.95 276.70H282.25Q283.85 276.70 283.85 278.30V286.00Q283.85 286.90 282.95 286.90Q282.05 286.90 282.05 286.00V279.50h-0.18V296.70Q282.05 297.60 280.70 297.60Q279.30 297.60 279.30 296.70V287.50h-0.25V296.70Q278.90 297.60 277.50 297.60Q276.15 297.60 276.15 296.70V279.50h-0.18V286.00Q276.15 286.90 275.25 286.90Q274.35 286.90 274.35 286.00V278.30Q274.35 276.70 275.95 276.70Z"/>
<circle cx="289.90" cy="273.90" r="2.1"/><path d="M286.75 276.70H293.05Q294.65 276.70 294.65 278.30V286.00Q294.65 286.90 293.75 286.90Q292.85 286.90 292.85 286.00V279.50h-0.18V296.70Q292.85 297.60 291.50 297.60Q290.10 297.60 290.10 296.70V287.50h-0.25V296.70Q289.70 297.60 288.30 297.60Q286.95 297.60 286.95 296.70V279.50h-0.18V286.00Q286.95 286.90 286.05 286.90Q285.15 286.90 285.15 286.00V278.30Q285.15 276.70 286.75 276.70Z"/>
</g>
<g fill="#96002f">
<circle cx="410.90" cy="215.00" r="2.1"/><path d="M407.75 217.80H414.05Q415.65 217.80 415.65 219.40V227.10Q415.65 228.00 414.75 228.00Q413.85 228.00 413.85 227.10V220.60h-0.18V237.80Q413.85 238.70 412.50 238.70Q411.10 238.70 411.10 237.80V228.60h-0.25V237.80Q410.70 238.70 409.30 238.70Q407.95 238.70 407.95 237.80V220.60h-0.18V227.10Q407.95 228.00 407.05 228.00Q406.15 228.00 406.15 227.10V219.40Q406.15 217.80 407.75 217.80Z"/>
<circle cx="421.70" cy="215.00" r="2.1"/><path d="M418.55 217.80H424.85Q426.45 217.80 426.45 219.40V227.10Q426.45 228.00 425.55 228.00Q424.65 228.00 424.65 227.10V220.60h-0.18V237.80Q424.65 238.70 423.30 238.70Q421.90 238.70 421.90 237.80V228.60h-0.25V237.80Q421.50 238.70 420.10 238.70Q418.75 238.70 418.75 237.80V220.60h-0.18V227.10Q418.75 228.00 417.85 228.00Q416.95 228.00 416.95 227.10V219.40Q416.95 217.80 418.55 217.80Z"/>
<circle cx="432.50" cy="215.00" r="2.1"/><path d="M429.35 217.80H435.65Q437.25 217.80 437.25 219.40V227.10Q437.25 228.00 436.35 228.00Q435.45 228.00 435.45 227.10V220.60h-0.18V237.80Q435.45 238.70 434.10 238.70Q432.70 238.70 432.70 237.80V228.60h-0.25V237.80Q432.30 238.70 430.90 238.70Q429.55 238.70 429.55 237.80V220.60h-0.18V227.10Q429.55 228.00 428.65 228.00Q427.75 228.00 427.75 227.10V219.40Q427.75 217.80 429.35 217.80Z"/>
<circle cx="443.30" cy="215.00" r="2.1"/><path d="M440.15 217.80H446.45Q448.05 217.80 448.05 219.40V227.10Q448.05 228.00 447.15 228.00Q446.25 228.00 446.25 227.10V220.60h-0.18V237.80Q446.25 238.70 444.90 238.70Q443.50 238.70 443.50 237.80V228.60h-0.25V237.80Q443.10 238.70 441.70 238.70Q440.35 238.70 440.35 237.80V220.60h-0.18V227.10Q440.35 228.00 439.45 228.00Q438.55 228.00 438.55 227.10V219.40Q438.55 217.80 440.15 217.80Z"/>
<circle cx="454.10" cy="215.00" r="2.1"/><path d="M450.95 217.80H457.25Q458.85 217.80 458.85 219.40V227.10Q458.85 228.00 457.95 228.00Q457.05 228.00 457.05 227.10V220.60h-0.18V237.80Q457.05 238.70 455.70 238.70Q454.30 238.70 454.30 237.80V228.60h-0.25V237.80Q453.90 238.70 452.50 238.70Q451.15 238.70 451.15 237.80V220.60h-0.18V227.10Q451.15 228.00 450.25 228.00Q449.35 228.00 449.35 227.10V219.40Q449.35 217.80 450.95 217.80Z"/>
<circle cx="464.90" cy="215.00" r="2.1"/><path d="M461.75 217.80H468.05Q469.65 217.80 469.65 219.40V227.10Q469.65 228.00 468.75 228.00Q467.85 228.00 467.85 227.10V220.60h-0.18V237.80Q467.85 238.70 466.50 238.70Q465.10 238.70 465.10 237.80V228.60h-0.25V237.80Q464.70 238.70 463.30 238.70Q461.95 238.70 461.95 237.80V220.60h-0.18V227.10Q461.95 228.00 461.05 228.00Q460.15 228.00 460.15 227.10V219.40Q460.15 217.80 461.75 217.80Z"/>
<circle cx="475.70" cy="215.00" r="2.1"/><path d="M472.55 217.80H478.85Q480.45 217.80 480.45 219.40V227.10Q480.45 228.00 479.55 228.00Q478.65 228.00 478.65 227.10V220.60h-0.18V237.80Q478.65 238.70 477.30 238.70Q475.90 238.70 475.90 237.80V228.60h-0.25V237.80Q475.50 238.70 474.10 238.70Q472.75 238.70 472.75 237.80V220.60h-0.18V227.10Q472.75 228.00 471.85 228.00Q470.95 228.00 470.95 227.10V219.40Q470.95 217.80 472.55 217.80Z"/>
<circle cx="486.50" cy="215.00" r="2.1"/><path d="M483.35 217.80H489.65Q491.25 217.80 491.25 219.40V227.10Q491.25 228.00 490.35 228.00Q489.45 228.00 489.45 227.10V220.60h-0.18V237.80Q489.45 238.70 488.10 238.70Q486.70 238.70 486.70 237.80V228.60h-0.25V237.80Q486.30 238.70 484.90 238.70Q483.55 238.70 483.55 237.80V220.60h-0.18V227.10Q483.55 228.00 482.65 228.00Q481.75 228.00 481.75 227.10V219.40Q481.75 217.80 483.35 217.80Z"/>
<circle cx="497.30" cy="215.00" r="2.1"/><path d="M494.15 217.80H500.45Q502.05 217.80 502.05 219.40V227.10Q502.05 228.00 501.15 228.00Q500.25 228.00 500.25 227.10V220.60h-0.18V237.80Q500.25 238.70 498.90 238.70Q497.50 238.70 497.50 237.80V228.60h-0.25V237.80Q497.10 238.70 495.70 238.70Q494.35 238.70 494.35 237.80V220.60h-0.18V227.10Q494.35 228.00 493.45 228.00Q492.55 228.00 492.55 227.10V219.40Q492.55 217.80 494.15 217.80Z"/>
<circle cx="508.10" cy="215.00" r="2.1"/><path d="M504.95 217.80H511.25Q512.85 217.80 512.85 219.40V227.10Q512.85 228.00 511.95 228.00Q511.05 228.00 511.05 227.10V220.60h-0.18V237.80Q511.05 238.70 509.70 238.70Q508.30 238.70 508.30 237.80V228.60h-0.25V237.80Q507.90 238.70 506.50 238.70Q505.15 238.70 505.15 237.80V220.60h-0.18V227.10Q505.15 228.00 504.25 228.00Q503.35 228.00 503.35 227.10V219.40Q503.35 217.80 504.95 217.80Z"/>
<circle cx="518.90" cy="215.00" r="2.1"/><path d="M515.75 217.80H522.05Q523.65 217.80 523.65 219.40V227.10Q523.65 228.00 522.75 228.00Q521.85 228.00 521.85 227.10V220.60h-0.18V237.80Q521.85 238.70 520.50 238.70Q519.10 238.70 519.10 237.80V228.60h-0.25V237.80Q518.70 238.70 517.30 238.70Q515.95 238.70 515.95 237.80V220.60h-0.18V227.10Q515.95 228.00 515.05 228.00Q514.15 228.00 514.15 227.10V219.40Q514.15 217.80 515.75 217.80Z"/>
<circle cx="529.70" cy="215.00" r="2.1"/><path d="M526.55 217.80H532.85Q534.45 217.80 534.45 219.40V227.10Q534.45 228.00 533.55 228.00Q532.65 228.00 532.65 227.10V220.60h-0.18V237.80Q532.65 238.70 531.30 238.70Q529.90 238.70 529.90 237.80V228.60h-0.25V237.80Q529.50 238.70 528.10 238.70Q526.75 238.70 526.75 237.80V220.60h-0.18V227.10Q526.75 228.00 525.85 228.00Q524.95 228.00 524.95 227.10V219.40Q524.95 217.80 526.55 217.80Z"/>
<circle cx="540.50" cy="215.00" r="2.1"/><path d="M537.35 217.80H543.65Q545.25 217.80 545.25 219.40V227.10Q545.25 228.00 544.35 228.00Q543.45 228.00 543.45 227.10V220.60h-0.18V237.80Q543.45 238.70 542.10 238.70Q540.70 238.70 540.70 237.80V228.60h-0.25V237.80Q540.30 238.70 538.90 238.70Q537.55 238.70 537.55 237.80V220.60h-0.18V227.10Q537.55 228.00 536.65 228.00Q535.75 228.00 535.75 227.10V219.40Q535.75 217.80 537.35 217.80Z"/>
<circle cx="551.30" cy="215.00" r="2.1"/><path d="M548.15 217.80H554.45Q556.05 217.80 556.05 219.40V227.10Q556.05 228.00 555.15 228.00Q554.25 228.00 554.25 227.10V220.60h-0.18V237.80Q554.25 238.70 552.90 238.70Q551.50 238.70 551.50 237.80V228.60h-0.25V237.80Q551.10 238.70 549.70 238.70Q548.35 238.70 548.35 237.80V220.60h-0.18V227.10Q548.35 228.00 547.45 228.00Q546.55 228.00 546.55 227.10V219.40Q546.55 217.80 548.15 217.80Z"/>
<circle cx="562.10" cy="215.00" r="2.1"/><path d="M558.95 217.80H565.25Q566.85 217.80 566.85 219.40V227.10Q566.85 228.00 565.95 228.00Q565.05 228.00 565.05 227.10V220.60h-0.18V237.80Q565.05 238.70 563.70 238.70Q562.30 238.70 562.30 237.80V228.60h-0.25V237.80Q561.90 238.70 560.50 238.70Q559.15 238.70 559.15 237.80V220.60h-0.18V227.10Q559.15 228.00 558.25 228.00Q557.35 228.00 557.35 227.10V219.40Q557.35 217.80 558.95 217.80Z"/>
<circle cx="572.90" cy="215.00" r="2.1"/><path d="M569.75 217.80H576.05Q577.65 217.80 577.65 219.40V227.10Q577.65 228.00 576.75 228.00Q575.85 228.00 575.85 227.10V220.60h-0.18V237.80Q575.85 238.70 574.50 238.70Q573.10 238.70 573.10 237.80V228.60h-0.25V237.80Q572.70 238.70 571.30 238.70Q569.95 238.70 569.95 237.80V220.60h-0.18V227.10Q569.95 228.00 569.05 228.00Q568.15 228.00 568.15 227.10V219.40Q568.15 217.80 569.75 217.80Z"/>
<circle cx="583.70" cy="215.00" r="2.1"/><path d="M580.55 217.80H586.85Q588.45 217.80 588.45 219.40V227.10Q588.45 228.00 587.55 228.00Q586.65 228.00 586.65 227.10V220.60h-0.18V237.80Q586.65 238.70 585.30 238.70Q583.90 238.70 583.90 237.80V228.60h-0.25V237.80Q583.50 238.70 582.10 238.70Q580.75 238.70 580.75 237.80V220.60h-0.18V227.10Q580.75 228.00 579.85 228.00Q578.95 228.00 578.95 227.10V219.40Q578.95 217.80 580.55 217.80Z"/>
<circle cx="594.50" cy="215.00" r="2.1"/><path d="M591.35 217.80H597.65Q599.25 217.80 599.25 219.40V227.10Q599.25 228.00 598.35 228.00Q597.45 228.00 597.45 227.10V220.60h-0.18V237.80Q597.45 238.70 596.10 238.70Q594.70 238.70 594.70 237.80V228.60h-0.25V237.80Q594.30 238.70 592.90 238.70Q591.55 238.70 591.55 237.80V220.60h-0.18V227.10Q591.55 228.00 590.65 228.00Q589.75 228.00 589.75 227.10V219.40Q589.75 217.80 591.35 217.80Z"/>
<circle cx="605.30" cy="215.00" r="2.1"/><path d="M602.15 217.80H608.45Q610.05 217.80 610.05 219.40V227.10Q610.05 228.00 609.15 228.00Q608.25 228.00 608.25 227.10V220.60h-0.18V237.80Q608.25 238.70 606.90 238.70Q605.50 238.70 605.50 237.80V228.60h-0.25V237.80Q605.10 238.70 603.70 238.70Q602.35 238.70 602.35 237.80V220.60h-0.18V227.10Q602.35 228.00 601.45 228.00Q600.55 228.00 600.55 227.10V219.40Q600.55 217.80 602.15 217.80Z"/>
<circle cx="616.10" cy="215.00" r="2.1"/><path d="M612.95 217.80H619.25Q620.85 217.80 620.85 219.40V227.10Q620.85 228.00 619.95 228.00Q619.05 228.00 619.05 227.10V220.60h-0.18V237.80Q619.05 238.70 617.70 238.70Q616.30 238.70 616.30 237.80V228.60h-0.25V237.80Q615.90 238.70 614.50 238.70Q613.15 238.70 613.15 237.80V220.60h-0.18V227.10Q613.15 228.00 612.25 228.00Q611.35 228.00 611.35 227.10V219.40Q611.35 217.80 612.95 217.80Z"/>
<circle cx="410.90" cy="244.45" r="2.1"/><path d="M407.75 247.25H414.05Q415.65 247.25 415.65 248.85V256.55Q415.65 257.45 414.75 257.45Q413.85 257.45 413.85 256.55V250.05h-0.18V267.25Q413.85 268.15 412.50 268.15Q411.10 268.15 411.10 267.25V258.05h-0.25V267.25Q410.70 268.15 409.30 268.15Q407.95 268.15 407.95 267.25V250.05h-0.18V256.55Q407.95 257.45 407.05 257.45Q406.15 257.45 406.15 256.55V248.85Q406.15 247.25 407.75 247.25Z"/>
<circle cx="421.70" cy="244.45" r="2.1"/><path d="M418.55 247.25H424.85Q426.45 247.25 426.45 248.85V256.55Q426.45 257.45 425.55 257.45Q424.65 257.45 424.65 256.55V250.05h-0.18V267.25Q424.65 268.15 423.30 268.15Q421.90 268.15 421.90 267.25V258.05h-0.25V267.25Q421.50 268.15 420.10 268.15Q418.75 268.15 418.75 267.25V250.05h-0.18V256.55Q418.75 257.45 417.85 257.45Q416.95 257.45 416.95 256.55V248.85Q416.95 247.25 418.55 247.25Z"/>
<circle cx="432.50" cy="244.45" r="2.1"/><path d="M429.35 247.25H435.65Q437.25 247.25 437.25 248.85V256.55Q437.25 257.45 436.35 257.45Q435.45 257.45 435.45 256.55V250.05h-0.18V267.25Q435.45 268.15 434.10 268.15Q432.70 268.15 432.70 267.25V258.05h-0.25V267.25Q432.30 268.15 430.90 268.15Q429.55 268.15 429.55 267.25V250.05h-0.18V256.55Q429.55 257.45 428.65 257.45Q427.75 257.45 427.75 256.55V248.85Q427.75 247.25 429.35 247.25Z"/>
<circle cx="443.30" cy="244.45" r="2.1"/><path d="M440.15 247.25H446.45Q448.05 247.25 448.05 248.85V256.55Q448.05 257.45 447.15 257.45Q446.25 257.45 446.25 256.55V250.05h-0.18V267.25Q446.25 268.15 444.90 268.15Q443.50 268.15 443.50 267.25V258.05h-0.25V267.25Q443.10 268.15 441.70 268.15Q440.35 268.15 440.35 267.25V250.05h-0.18V256.55Q440.35 257.45 439.45 257.45Q438.55 257.45 438.55 256.55V248.85Q438.55 247.25 440.15 247.25Z"/>
<circle cx="454.10" cy="244.45" r="2.1"/><path d="M450.95 247.25H457.25Q458.85 247.25 458.85 248.85V256.55Q458.85 257.45 457.95 257.45Q457.05 257.45 457.05 256.55V250.05h-0.18V267.25Q457.05 268.15 455.70 268.15Q454.30 268.15 454.30 267.25V258.05h-0.25V267.25Q453.90 268.15 452.50 268.15Q451.15 268.15 451.15 267.25V250.05h-0.18V256.55Q451.15 257.45 450.25 257.45Q449.35 257.45 449.35 256.55V248.85Q449.35 247.25 450.95 247.25Z"/>
<circle cx="464.90" cy="244.45" r="2.1"/><path d="M461.75 247.25H468.05Q469.65 247.25 469.65 248.85V256.55Q469.65 257.45 468.75 257.45Q467.85 257.45 467.85 256.55V250.05h-0.18V267.25Q467.85 268.15 466.50 268.15Q465.10 268.15 465.10 267.25V258.05h-0.25V267.25Q464.70 268.15 463.30 268.15Q461.95 268.15 461.95 267.25V250.05h-0.18V256.55Q461.95 257.45 461.05 257.45Q460.15 257.45 460.15 256.55V248.85Q460.15 247.25 461.75 247.25Z"/>
<circle cx="475.70" cy="244.45" r="2.1"/><path d="M472.55 247.25H478.85Q480.45 247.25 480.45 248.85V256.55Q480.45 257.45 479.55 257.45Q478.65 257.45 478.65 256.55V250.05h-0.18V267.25Q478.65 268.15 477.30 268.15Q475.90 268.15 475.90 267.25V258.05h-0.25V267.25Q475.50 268.15 474.10 268.15Q472.75 268.15 472.75 267.25V250.05h-0.18V256.55Q472.75 257.45 471.85 257.45Q470.95 257.45 470.95 256.55V248.85Q470.95 247.25 472.55 247.25Z"/>
<circle cx="486.50" cy="244.45" r="2.1"/><path d="M483.35 247.25H489.65Q491.25 247.25 491.25 248.85V256.55Q491.25 257.45 490.35 257.45Q489.45 257.45 489.45 256.55V250.05h-0.18V267.25Q489.45 268.15 488.10 268.15Q486.70 268.15 486.70 267.25V258.05h-0.25V267.25Q486.30 268.15 484.90 268.15Q483.55 268.15 483.55 267.25V250.05h-0.18V256.55Q483.55 257.45 482.65 257.45Q481.75 257.45 481.75 256.55V248.85Q481.75 247.25 483.35 247.25Z"/>
<circle cx="497.30" cy="244.45" r="2.1"/><path d="M494.15 247.25H500.45Q502.05 247.25 502.05 248.85V256.55Q502.05 257.45 501.15 257.45Q500.25 257.45 500.25 256.55V250.05h-0.18V267.25Q500.25 268.15 498.90 268.15Q497.50 268.15 497.50 267.25V258.05h-0.25V267.25Q497.10 268.15 495.70 268.15Q494.35 268.15 494.35 267.25V250.05h-0.18V256.55Q494.35 257.45 493.45 257.45Q492.55 257.45 492.55 256.55V248.85Q492.55 247.25 494.15 247.25Z"/>
<circle cx="508.10" cy="244.45" r="2.1"/><path d="M504.95 247.25H511.25Q512.85 247.25 512.85 248.85V256.55Q512.85 257.45 511.95 257.45Q511.05 257.45 511.05 256.55V250.05h-0.18V267.25Q511.05 268.15 509.70 268.15Q508.30 268.15 508.30 267.25V258.05h-0.25V267.25Q507.90 268.15 506.50 268.15Q505.15 268.15 505.15 267.25V250.05h-0.18V256.55Q505.15 257.45 504.25 257.45Q503.35 257.45 503.35 256.55V248.85Q503.35 247.25 504.95 247.25Z"/>
<circle cx="518.90" cy="244.45" r="2.1"/><path d="M515.75 247.25H522.05Q523.65 247.25 523.65 248.85V256.55Q523.65 257.45 522.75 257.45Q521.85 257.45 521.85 256.55V250.05h-0.18V267.25Q521.85 268.15 520.50 268.15Q519.10 268.15 519.10 267.25V258.05h-0.25V267.25Q518.70 268.15 517.30 268.15Q515.95 268.15 515.95 267.25V250.05h-0.18V256.55Q515.95 257.45 515.05 257.45Q514.15 257.45 514.15 256.55V248.85Q514.15 247.25 515.75 247.25Z"/>
<circle cx="529.70" cy="244.45" r="2.1"/><path d="M526.55 247.25H532.85Q534.45 247.25 534.45 248.85V256.55Q534.45 257.45 533.55 257.45Q532.65 257.45 532.65 256.55V250.05h-0.18V267.25Q532.65 268.15 531.30 268.15Q529.90 268.15 529.90 267.25V258.05h-0.25V267.25Q529.50 268.15 528.10 268.15Q526.75 268.15 526.75 267.25V250.05h-0.18V256.55Q526.75 257.45 525.85 257.45Q524.95 257.45 524.95 256.55V248.85Q524.95 247.25 526.55 247.25Z"/>
<circle cx="540.50" cy="244.45" r="2.1"/><path d="M537.35 247.25H543.65Q545.25 247.25 545.25 248.85V256.55Q545.25 257.45 544.35 257.45Q543.45 257.45 543.45 256.55V250.05h-0.18V267.25Q543.45 268.15 542.10 268.15Q540.70 268.15 540.70 267.25V258.05h-0.25V267.25Q540.30 268.15 538.90 268.15Q537.55 268.15 537.55 267.25V250.05h-0.18V256.55Q537.55 257.45 536.65 257.45Q535.75 257.45 535.75 256.55V248.85Q535.75 247.25 537.35 247.25Z"/>
<circle cx="551.30" cy="244.45" r="2.1"/><path d="M548.15 247.25H554.45Q556.05 247.25 556.05 248.85V256.55Q556.05 257.45 555.15 257.45Q554.25 257.45 554.25 256.55V250.05h-0.18V267.25Q554.25 268.15 552.90 268.15Q551.50 268.15 551.50 267.25V258.05h-0.25V267.25Q551.10 268.15 549.70 268.15Q548.35 268.15 548.35 267.25V250.05h-0.18V256.55Q548.35 257.45 547.45 257.45Q546.55 257.45 546.55 256.55V248.85Q546.55 247.25 548.15 247.25Z"/>
<circle cx="562.10" cy="244.45" r="2.1"/><path d="M558.95 247.25H565.25Q566.85 247.25 566.85 248.85V256.55Q566.85 257.45 565.95 257.45Q565.05 257.45 565.05 256.55V250.05h-0.18V267.25Q565.05 268.15 563.70 268.15Q562.30 268.15 562.30 267.25V258.05h-0.25V267.25Q561.90 268.15 560.50 268.15Q559.15 268.15 559.15 267.25V250.05h-0.18V256.55Q559.15 257.45 558.25 257.45Q557.35 257.45 557.35 256.55V248.85Q557.35 247.25 558.95 247.25Z"/>
<circle cx="572.90" cy="244.45" r="2.1"/><path d="M569.75 247.25H576.05Q577.65 247.25 577.65 248.85V256.55Q577.65 257.45 576.75 257.45Q575.85 257.45 575.85 256.55V250.05h-0.18V267.25Q575.85 268.15 574.50 268.15Q573.10 268.15 573.10 267.25V258.05h-0.25V267.25Q572.70 268.15 571.30 268.15Q569.95 268.15 569.95 267.25V250.05h-0.18V256.55Q569.95 257.45 569.05 257.45Q568.15 257.45 568.15 256.55V248.85Q568.15 247.25 569.75 247.25Z"/>
<circle cx="583.70" cy="244.45" r="2.1"/><path d="M580.55 247.25H586.85Q588.45 247.25 588.45 248.85V256.55Q588.45 257.45 587.55 257.45Q586.65 257.45 586.65 256.55V250.05h-0.18V267.25Q586.65 268.15 585.30 268.15Q583.90 268.15 583.90 267.25V258.05h-0.25V267.25Q583.50 268.15 582.10 268.15Q580.75 268.15 580.75 267.25V250.05h-0.18V256.55Q580.75 257.45 579.85 257.45Q578.95 257.45 578.95 256.55V248.85Q578.95 247.25 580.55 247.25Z"/>
<circle cx="594.50" cy="244.45" r="2.1"/><path d="M591.35 247.25H597.65Q599.25 247.25 599.25 248.85V256.55Q599.25 257.45 598.35 257.45Q597.45 257.45 597.45 256.55V250.05h-0.18V267.25Q597.45 268.15 596.10 268.15Q594.70 268.15 594.70 267.25V258.05h-0.25V267.25Q594.30 268.15 592.90 268.15Q591.55 268.15 591.55 267.25V250.05h-0.18V256.55Q591.55 257.45 590.65 257.45Q589.75 257.45 589.75 256.55V248.85Q589.75 247.25 591.35 247.25Z"/>
<circle cx="605.30" cy="244.45" r="2.1"/><path d="M602.15 247.25H608.45Q610.05 247.25 610.05 248.85V256.55Q610.05 257.45 609.15 257.45Q608.25 257.45 608.25 256.55V250.05h-0.18V267.25Q608.25 268.15 606.90 268.15Q605.50 268.15 605.50 267.25V258.05h-0.25V267.25Q605.10 268.15 603.70 268.15Q602.35 268.15 602.35 267.25V250.05h-0.18V256.55Q602.35 257.45 601.45 257.45Q600.55 257.45 600.55 256.55V248.85Q600.55 247.25 602.15 247.25Z"/>
<circle cx="616.10" cy="244.45" r="2.1"/><path d="M612.95 247.25H619.25Q620.85 247.25 620.85 248.85V256.55Q620.85 257.45 619.95 257.45Q619.05 257.45 619.05 256.55V250.05h-0.18V267.25Q619.05 268.15 617.70 268.15Q616.30 268.15 616.30 267.25V258.05h-0.25V267.25Q615.90 268.15 614.50 268.15Q613.15 268.15 613.15 267.25V250.05h-0.18V256.55Q613.15 257.45 612.25 257.45Q611.35 257.45 611.35 256.55V248.85Q611.35 247.25 612.95 247.25Z"/>
<circle cx="410.90" cy="273.90" r="2.1"/><path d="M407.75 276.70H414.05Q415.65 276.70 415.65 278.30V286.00Q415.65 286.90 414.75 286.90Q413.85 286.90 413.85 286.00V279.50h-0.18V296.70Q413.85 297.60 412.50 297.60Q411.10 297.60 411.10 296.70V287.50h-0.25V296.70Q410.70 297.60 409.30 297.60Q407.95 297.60 407.95 296.70V279.50h-0.18V286.00Q407.95 286.90 407.05 286.90Q406.15 286.90 406.15 286.00V278.30Q406.15 276.70 407.75 276.70Z"/>
<circle cx="421.70" cy="273.90" r="2.1"/><path d="M418.55 276.70H424.85Q426.45 276.70 426.45 278.30V286.00Q426.45 286.90 425.55 286.90Q424.65 286.90 424.65 286.00V279.50h-0.18V296.70Q424.65 297.60 423.30 297.60Q421.90 297.60 421.90 296.70V287.50h-0.25V296.70Q421.50 297.60 420.10 297.60Q418.75 297.60 418.75 296.70V279.50h-0.18V286.00Q418.75 286.90 417.85 286.90Q416.95 286.90 416.95 286.00V278.30Q416.95 276.70 418.55 276.70Z"/>
<circle cx="432.50" cy="273.90" r="2.1"/><path d="M429.35 276.70H435.65Q437.25 276.70 437.25 278.30V286.00Q437.25 286.90 436.35 286.90Q435.45 286.90 435.45 286.00V279.50h-0.18V296.70Q435.45 297.60 434.10 297.60Q432.70 297.60 432.70 296.70V287.50h-0.25V296.70Q432.30 297.60 430.90 297.60Q429.55 297.60 429.55 296.70V279.50h-0.18V286.00Q429.55 286.90 428.65 286.90Q427.75 286.90 427.75 286.00V278.30Q427.75 276.70 429.35 276.70Z"/>
<circle cx="443.30" cy="273.90" r="2.1"/><path d="M440.15 276.70H446.45Q448.05 276.70 448.05 278.30V286.00Q448.05 286.90 447.15 286.90Q446.25 286.90 446.25 286.00V279.50h-0.18V296.70Q446.25 297.60 444.90 297.60Q443.50 297.60 443.50 296.70V287.50h-0.25V296.70Q443.10 297.60 441.70 297.60Q440.35 297.60 440.35 296.70V279.50h-0.18V286.00Q440.35 286.90 439.45 286.90Q438.55 286.90 438.55 286.00V278.30Q438.55 276.70 440.15 276.70Z"/>
<circle cx="454.10" cy="273.90" r="2.1"/><path d="M450.95 276.70H457.25Q458.85 276.70 458.85 278.30V286.00Q458.85 286.90 457.95 286.90Q457.05 286.90 457.05 286.00V279.50h-0.18V296.70Q457.05 297.60 455.70 297.60Q454.30 297.60 454.30 296.70V287.50h-0.25V296.70Q453.90 297.60 452.50 297.60Q451.15 297.60 451.15 296.70V279.50h-0.18V286.00Q451.15 286.90 450.25 286.90Q449.35 286.90 449.35 286.00V278.30Q449.35 276.70 450.95 276.70Z"/>
<circle cx="464.90" cy="273.90" r="2.1"/><path d="M461.75 276.70H468.05Q469.65 276.70 469.65 278.30V286.00Q469.65 286.90 468.75 286.90Q467.85 286.90 467.85 286.00V279.50h-0.18V296.70Q467.85 297.60 466.50 297.60Q465.10 297.60 465.10 296.70V287.50h-0.25V296.70Q464.70 297.60 463.30 297.60Q461.95 297.60 461.95 296.70V279.50h-0.18V286.00Q461.95 286.90 461.05 286.90Q460.15 286.90 460.15 286.00V278.30Q460.15 276.70 461.75 276.70Z"/>
<circle cx="475.70" cy="273.90" r="2.1"/><path d="M472.55 276.70H478.85Q480.45 276.70 480.45 278.30V286.00Q480.45 286.90 479.55 286.90Q478.65 286.90 478.65 286.00V279.50h-0.18V296.70Q478.65 297.60 477.30 297.60Q475.90 297.60 475.90 296.70V287.50h-0.25V296.70Q475.50 297.60 474.10 297.60Q472.75 297.60 472.75 296.70V279.50h-0.18V286.00Q472.75 286.90 471.85 286.90Q470.95 286.90 470.95 286.00V278.30Q470.95 276.70 472.55 276.70Z"/>
<circle cx="486.50" cy="273.90" r="2.1"/><path d="M483.35 276.70H489.65Q491.25 276.70 491.25 278.30V286.00Q491.25 286.90 490.35 286.90Q489.45 286.90 489.45 286.00V279.50h-0.18V296.70Q489.45 297.60 488.10 297.60Q486.70 297.60 486.70 296.70V287.50h-0.25V296.70Q486.30 297.60 484.90 297.60Q483.55 297.60 483.55 296.70V279.50h-0.18V286.00Q483.55 286.90 482.65 286.90Q481.75 286.90 481.75 286.00V278.30Q481.75 276.70 483.35 276.70Z"/>
<circle cx="497.30" cy="273.90" r="2.1"/><path d="M494.15 276.70H500.45Q502.05 276.70 502.05 278.30V286.00Q502.05 286.90 501.15 286.90Q500.25 286.90 500.25 286.00V279.50h-0.18V296.70Q500.25 297.60 498.90 297.60Q497.50 297.60 497.50 296.70V287.50h-0.25V296.70Q497.10 297.60 495.70 297.60Q494.35 297.60 494.35 296.70V279.50h-0.18V286.00Q494.35 286.90 493.45 286.90Q492.55 286.90 492.55 286.00V278.30Q492.55 276.70 494.15 276.70Z"/>
<circle cx="508.10" cy="273.90" r="2.1"/><path d="M504.95 276.70H511.25Q512.85 276.70 512.85 278.30V286.00Q512.85 286.90 511.95 286.90Q511.05 286.90 511.05 286.00V279.50h-0.18V296.70Q511.05 297.60 509.70 297.60Q508.30 297.60 508.30 296.70V287.50h-0.25V296.70Q507.90 297.60 506.50 297.60Q505.15 297.60 505.15 296.70V279.50h-0.18V286.00Q505.15 286.90 504.25 286.90Q503.35 286.90 503.35 286.00V278.30Q503.35 276.70 504.95 276.70Z"/>
<circle cx="518.90" cy="273.90" r="2.1"/><path d="M515.75 276.70H522.05Q523.65 276.70 523.65 278.30V286.00Q523.65 286.90 522.75 286.90Q521.85 286.90 521.85 286.00V279.50h-0.18V296.70Q521.85 297.60 520.50 297.60Q519.10 297.60 519.10 296.70V287.50h-0.25V296.70Q518.70 297.60 517.30 297.60Q515.95 297.60 515.95 296.70V279.50h-0.18V286.00Q515.95 286.90 515.05 286.90Q514.15 286.90 514.15 286.00V278.30Q514.15 276.70 515.75 276.70Z"/>
<circle cx="529.70" cy="273.90" r="2.1"/><path d="M526.55 276.70H532.85Q534.45 276.70 534.45 278.30V286.00Q534.45 286.90 533.55 286.90Q532.65 286.90 532.65 286.00V279.50h-0.18V296.70Q532.65 297.60 531.30 297.60Q529.90 297.60 529.90 296.70V287.50h-0.25V296.70Q529.50 297.60 528.10 297.60Q526.75 297.60 526.75 296.70V279.50h-0.18V286.00Q526.75 286.90 525.85 286.90Q524.95 286.90 524.95 286.00V278.30Q524.95 276.70 526.55 276.70Z"/>
<circle cx="540.50" cy="273.90" r="2.1"/><path d="M537.35 276.70H543.65Q545.25 276.70 545.25 278.30V286.00Q545.25 286.90 544.35 286.90Q543.45 286.90 543.45 286.00V279.50h-0.18V296.70Q543.45 297.60 542.10 297.60Q540.70 297.60 540.70 296.70V287.50h-0.25V296.70Q540.30 297.60 538.90 297.60Q537.55 297.60 537.55 296.70V279.50h-0.18V286.00Q537.55 286.90 536.65 286.90Q535.75 286.90 535.75 286.00V278.30Q535.75 276.70 537.35 276.70Z"/>
<circle cx="551.30" cy="273.90" r="2.1"/><path d="M548.15 276.70H554.45Q556.05 276.70 556.05 278.30V286.00Q556.05 286.90 555.15 286.90Q554.25 286.90 554.25 286.00V279.50h-0.18V296.70Q554.25 297.60 552.90 297.60Q551.50 297.60 551.50 296.70V287.50h-0.25V296.70Q551.10 297.60 549.70 297.60Q548.35 297.60 548.35 296.70V279.50h-0.18V286.00Q548.35 286.90 547.45 286.90Q546.55 286.90 546.55 286.00V278.30Q546.55 276.70 548.15 276.70Z"/>
<circle cx="562.10" cy="273.90" r="2.1"/><path d="M558.95 276.70H565.25Q566.85 276.70 566.85 278.30V286.00Q566.85 286.90 565.95 286.90Q565.05 286.90 565.05 286.00V279.50h-0.18V296.70Q565.05 297.60 563.70 297.60Q562.30 297.60 562.30 296.70V287.50h-0.25V296.70Q561.90 297.60 560.50 297.60Q559.15 297.60 559.15 296.70V279.50h-0.18V286.00Q559.15 286.90 558.25 286.90Q557.35 286.90 557.35 286.00V278.30Q557.35 276.70 558.95 276.70Z"/>
<circle cx="572.90" cy="273.90" r="2.1"/><path d="M569.75 276.70H576.05Q577.65 276.70 577.65 278.30V286.00Q577.65 286.90 576.75 286.90Q575.85 286.90 575.85 286.00V279.50h-0.18V296.70Q575.85 297.60 574.50 297.60Q573.10 297.60 573.10 296.70V287.50h-0.25V296.70Q572.70 297.60 571.30 297.60Q569.95 297.60 569.95 296.70V279.50h-0.18V286.00Q569.95 286.90 569.05 286.90Q568.15 286.90 568.15 286.00V278.30Q568.15 276.70 569.75 276.70Z"/>
<circle cx="583.70" cy="273.90" r="2.1"/><path d="M580.55 276.70H586.85Q588.45 276.70 588.45 278.30V286.00Q588.45 286.90 587.55 286.90Q586.65 286.90 586.65 286.00V279.50h-0.18V296.70Q586.65 297.60 585.30 297.60Q583.90 297.60 583.90 296.70V287.50h-0.25V296.70Q583.50 297.60 582.10 297.60Q580.75 297.60 580.75 296.70V279.50h-0.18V286.00Q580.75 286.90 579.85 286.90Q578.95 286.90 578.95 286.00V278.30Q578.95 276.70 580.55 276.70Z"/>
<circle cx="594.50" cy="273.90" r="2.1"/><path d="M591.35 276.70H597.65Q599.25 276.70 599.25 278.30V286.00Q599.25 286.90 598.35 286.90Q597.45 286.90 597.45 286.00V279.50h-0.18V296.70Q597.45 297.60 596.10 297.60Q594.70 297.60 594.70 296.70V287.50h-0.25V296.70Q594.30 297.60 592.90 297.60Q591.55 297.60 591.55 296.70V279.50h-0.18V286.00Q591.55 286.90 590.65 286.90Q589.75 286.90 589.75 286.00V278.30Q589.75 276.70 591.35 276.70Z"/>
<circle cx="605.30" cy="273.90" r="2.1"/><path d="M602.15 276.70H608.45Q610.05 276.70 610.05 278.30V286.00Q610.05 286.90 609.15 286.90Q608.25 286.90 608.25 286.00V279.50h-0.18V296.70Q608.25 297.60 606.90 297.60Q605.50 297.60 605.50 296.70V287.50h-0.25V296.70Q605.10 297.60 603.70 297.60Q602.35 297.60 602.35 296.70V279.50h-0.18V286.00Q602.35 286.90 601.45 286.90Q600.55 286.90 600.55 286.00V278.30Q600.55 276.70 602.15 276.70Z"/>
<circle cx="616.10" cy="273.90" r="2.1"/><path d="M612.95 276.70H619.25Q620.85 276.70 620.85 278.30V286.00Q620.85 286.90 619.95 286.90Q619.05 286.90 619.05 286.00V279.50h-0.18V296.70Q619.05 297.60 617.70 297.60Q616.30 297.60 616.30 296.70V287.50h-0.25V296.70Q615.90 297.60 614.50 297.60Q613.15 297.60 613.15 296.70V279.50h-0.18V286.00Q613.15 286.90 612.25 286.90Q611.35 286.90 611.35 286.00V278.30Q611.35 276.70 612.95 276.70Z"/>
<circle cx="410.90" cy="303.35" r="2.1"/><path d="M407.75 306.15H414.05Q415.65 306.15 415.65 307.75V315.45Q415.65 316.35 414.75 316.35Q413.85 316.35 413.85 315.45V308.95h-0.18V326.15Q413.85 327.05 412.50 327.05Q411.10 327.05 411.10 326.15V316.95h-0.25V326.15Q410.70 327.05 409.30 327.05Q407.95 327.05 407.95 326.15V308.95h-0.18V315.45Q407.95 316.35 407.05 316.35Q406.15 316.35 406.15 315.45V307.75Q406.15 306.15 407.75 306.15Z"/>
<circle cx="421.70" cy="303.35" r="2.1"/><path d="M418.55 306.15H424.85Q426.45 306.15 426.45 307.75V315.45Q426.45 316.35 425.55 316.35Q424.65 316.35 424.65 315.45V308.95h-0.18V326.15Q424.65 327.05 423.30 327.05Q421.90 327.05 421.90 326.15V316.95h-0.25V326.15Q421.50 327.05 420.10 327.05Q418.75 327.05 418.75 326.15V308.95h-0.18V315.45Q418.75 316.35 417.85 316.35Q416.95 316.35 416.95 315.45V307.75Q416.95 306.15 418.55 306.15Z"/>
<circle cx="432.50" cy="303.35" r="2.1"/><path d="M429.35 306.15H435.65Q437.25 306.15 437.25 307.75V315.45Q437.25 316.35 436.35 316.35Q435.45 316.35 435.45 315.45V308.95h-0.18V326.15Q435.45 327.05 434.10 327.05Q432.70 327.05 432.70 326.15V316.95h-0.25V326.15Q432.30 327.05 430.90 327.05Q429.55 327.05 429.55 326.15V308.95h-0.18V315.45Q429.55 316.35 428.65 316.35Q427.75 316.35 427.75 315.45V307.75Q427.75 306.15 429.35 306.15Z"/>
<circle cx="443.30" cy="303.35" r="2.1"/><path d="M440.15 306.15H446.45Q448.05 306.15 448.05 307.75V315.45Q448.05 316.35 447.15 316.35Q446.25 316.35 446.25 315.45V308.95h-0.18V326.15Q446.25 327.05 444.90 327.05Q443.50 327.05 443.50 326.15V316.95h-0.25V326.15Q443.10 327.05 441.70 327.05Q440.35 327.05 440.35 326.15V308.95h-0.18V315.45Q440.35 316.35 439.45 316.35Q438.55 316.35 438.55 315.45V307.75Q438.55 306.15 440.15 306.15Z"/>
<circle cx="454.10" cy="303.35" r="2.1"/><path d="M450.95 306.15H457.25Q458.85 306.15 458.85 307.75V315.45Q458.85 316.35 457.95 316.35Q457.05 316.35 457.05 315.45V308.95h-0.18V326.15Q457.05 327.05 455.70 327.05Q454.30 327.05 454.30 326.15V316.95h-0.25V326.15Q453.90 327.05 452.50 327.05Q451.15 327.05 451.15 326.15V308.95h-0.18V315.45Q451.15 316.35 450.25 316.35Q449.35 316.35 449.35 315.45V307.75Q449.35 306.15 450.95 306.15Z"/>
<circle cx="464.90" cy="303.35" r="2.1"/><path d="M461.75 306.15H468.05Q469.65 306.15 469.65 307.75V315.45Q469.65 316.35 468.75 316.35Q467.85 316.35 467.85 315.45V308.95h-0.18V326.15Q467.85 327.05 466.50 327.05Q465.10 327.05 465.10 326.15V316.95h-0.25V326.15Q464.70 327.05 463.30 327.05Q461.95 327.05 461.95 326.15V308.95h-0.18V315.45Q461.95 316.35 461.05 316.35Q460.15 316.35 460.15 315.45V307.75Q460.15 306.15 461.75 306.15Z"/>
<circle cx="475.70" cy="303.35" r="2.1"/><path d="M472.55 306.15H478.85Q480.45 306.15 480.45 307.75V315.45Q480.45 316.35 479.55 316.35Q478.65 316.35 478.65 315.45V308.95h-0.18V326.15Q478.65 327.05 477.30 327.05Q475.90 327.05 475.90 326.15V316.95h-0.25V326.15Q475.50 327.05 474.10 327.05Q472.75 327.05 472.75 326.15V308.95h-0.18V315.45Q472.75 316.35 471.85 316.35Q470.95 316.35 470.95 315.45V307.75Q470.95 306.15 472.55 306.15Z"/>
<circle cx="486.50" cy="303.35" r="2.1"/><path d="M483.35 306.15H489.65Q491.25 306.15 491.25 307.75V315.45Q491.25 316.35 490.35 316.35Q489.45 316.35 489.45 315.45V308.95h-0.18V326.15Q489.45 327.05 488.10 327.05Q486.70 327.05 486.70 326.15V316.95h-0.25V326.15Q486.30 327.05 484.90 327.05Q483.55 327.05 483.55 326.15V308.95h-0.18V315.45Q483.55 316.35 482.65 316.35Q481.75 316.35 481.75 315.45V307.75Q481.75 306.15 483.35 306.15Z"/>
<circle cx="497.30" cy="303.35" r="2.1"/><path d="M494.15 306.15H500.45Q502.05 306.15 502.05 307.75V315.45Q502.05 316.35 501.15 316.35Q500.25 316.35 500.25 315.45V308.95h-0.18V326.15Q500.25 327.05 498.90 327.05Q497.50 327.05 497.50 326.15V316.95h-0.25V326.15Q497.10 327.05 495.70 327.05Q494.35 327.05 494.35 326.15V308.95h-0.18V315.45Q494.35 316.35 493.45 316.35Q492.55 316.35 492.55 315.45V307.75Q492.55 306.15 494.15 306.15Z"/>
</g>
<g fill="#e5194a">
<circle cx="649.60" cy="215.00" r="2.1"/><path d="M646.45 217.80H652.75Q654.35 217.80 654.35 219.40V227.10Q654.35 228.00 653.45 228.00Q652.55 228.00 652.55 227.10V220.60h-0.18V237.80Q652.55 238.70 651.20 238.70Q649.80 238.70 649.80 237.80V228.60h-0.25V237.80Q649.40 238.70 648.00 238.70Q646.65 238.70 646.65 237.80V220.60h-0.18V227.10Q646.65 228.00 645.75 228.00Q644.85 228.00 644.85 227.10V219.40Q644.85 217.80 646.45 217.80Z"/>
<circle cx="660.40" cy="215.00" r="2.1"/><path d="M657.25 217.80H663.55Q665.15 217.80 665.15 219.40V227.10Q665.15 228.00 664.25 228.00Q663.35 228.00 663.35 227.10V220.60h-0.18V237.80Q663.35 238.70 662.00 238.70Q660.60 238.70 660.60 237.80V228.60h-0.25V237.80Q660.20 238.70 658.80 238.70Q657.45 238.70 657.45 237.80V220.60h-0.18V227.10Q657.45 228.00 656.55 228.00Q655.65 228.00 655.65 227.10V219.40Q655.65 217.80 657.25 217.80Z"/>
<circle cx="671.20" cy="215.00" r="2.1"/><path d="M668.05 217.80H674.35Q675.95 217.80 675.95 219.40V227.10Q675.95 228.00 675.05 228.00Q674.15 228.00 674.15 227.10V220.60h-0.18V237.80Q674.15 238.70 672.80 238.70Q671.40 238.70 671.40 237.80V228.60h-0.25V237.80Q671.00 238.70 669.60 238.70Q668.25 238.70 668.25 237.80V220.60h-0.18V227.10Q668.25 228.00 667.35 228.00Q666.45 228.00 666.45 227.10V219.40Q666.45 217.80 668.05 217.80Z"/>
<circle cx="682.00" cy="215.00" r="2.1"/><path d="M678.85 217.80H685.15Q686.75 217.80 686.75 219.40V227.10Q686.75 228.00 685.85 228.00Q684.95 228.00 684.95 227.10V220.60h-0.18V237.80Q684.95 238.70 683.60 238.70Q682.20 238.70 682.20 237.80V228.60h-0.25V237.80Q681.80 238.70 680.40 238.70Q679.05 238.70 679.05 237.80V220.60h-0.18V227.10Q679.05 228.00 678.15 228.00Q677.25 228.00 677.25 227.10V219.40Q677.25 217.80 678.85 217.80Z"/>
<circle cx="692.80" cy="215.00" r="2.1"/><path d="M689.65 217.80H695.95Q697.55 217.80 697.55 219.40V227.10Q697.55 228.00 696.65 228.00Q695.75 228.00 695.75 227.10V220.60h-0.18V237.80Q695.75 238.70 694.40 238.70Q693.00 238.70 693.00 237.80V228.60h-0.25V237.80Q692.60 238.70 691.20 238.70Q689.85 238.70 689.85 237.80V220.60h-0.18V227.10Q689.85 228.00 688.95 228.00Q688.05 228.00 688.05 227.10V219.40Q688.05 217.80 689.65 217.80Z"/>
<circle cx="703.60" cy="215.00" r="2.1"/><path d="M700.45 217.80H706.75Q708.35 217.80 708.35 219.40V227.10Q708.35 228.00 707.45 228.00Q706.55 228.00 706.55 227.10V220.60h-0.18V237.80Q706.55 238.70 705.20 238.70Q703.80 238.70 703.80 237.80V228.60h-0.25V237.80Q703.40 238.70 702.00 238.70Q700.65 238.70 700.65 237.80V220.60h-0.18V227.10Q700.65 228.00 699.75 228.00Q698.85 228.00 698.85 227.10V219.40Q698.85 217.80 700.45 217.80Z"/>
<circle cx="714.40" cy="215.00" r="2.1"/><path d="M711.25 217.80H717.55Q719.15 217.80 719.15 219.40V227.10Q719.15 228.00 718.25 228.00Q717.35 228.00 717.35 227.10V220.60h-0.18V237.80Q717.35 238.70 716.00 238.70Q714.60 238.70 714.60 237.80V228.60h-0.25V237.80Q714.20 238.70 712.80 238.70Q711.45 238.70 711.45 237.80V220.60h-0.18V227.10Q711.45 228.00 710.55 228.00Q709.65 228.00 709.65 227.10V219.40Q709.65 217.80 711.25 217.80Z"/>
<circle cx="725.20" cy="215.00" r="2.1"/><path d="M722.05 217.80H728.35Q729.95 217.80 729.95 219.40V227.10Q729.95 228.00 729.05 228.00Q728.15 228.00 728.15 227.10V220.60h-0.18V237.80Q728.15 238.70 726.80 238.70Q725.40 238.70 725.40 237.80V228.60h-0.25V237.80Q725.00 238.70 723.60 238.70Q722.25 238.70 722.25 237.80V220.60h-0.18V227.10Q722.25 228.00 721.35 228.00Q720.45 228.00 720.45 227.10V219.40Q720.45 217.80 722.05 217.80Z"/>
<circle cx="736.00" cy="215.00" r="2.1"/><path d="M732.85 217.80H739.15Q740.75 217.80 740.75 219.40V227.10Q740.75 228.00 739.85 228.00Q738.95 228.00 738.95 227.10V220.60h-0.18V237.80Q738.95 238.70 737.60 238.70Q736.20 238.70 736.20 237.80V228.60h-0.25V237.80Q735.80 238.70 734.40 238.70Q733.05 238.70 733.05 237.80V220.60h-0.18V227.10Q733.05 228.00 732.15 228.00Q731.25 228.00 731.25 227.10V219.40Q731.25 217.80 732.85 217.80Z"/>
<circle cx="746.80" cy="215.00" r="2.1"/><path d="M743.65 217.80H749.95Q751.55 217.80 751.55 219.40V227.10Q751.55 228.00 750.65 228.00Q749.75 228.00 749.75 227.10V220.60h-0.18V237.80Q749.75 238.70 748.40 238.70Q747.00 238.70 747.00 237.80V228.60h-0.25V237.80Q746.60 238.70 745.20 238.70Q743.85 238.70 743.85 237.80V220.60h-0.18V227.10Q743.85 228.00 742.95 228.00Q742.05 228.00 742.05 227.10V219.40Q742.05 217.80 743.65 217.80Z"/>
<circle cx="757.60" cy="215.00" r="2.1"/><path d="M754.45 217.80H760.75Q762.35 217.80 762.35 219.40V227.10Q762.35 228.00 761.45 228.00Q760.55 228.00 760.55 227.10V220.60h-0.18V237.80Q760.55 238.70 759.20 238.70Q757.80 238.70 757.80 237.80V228.60h-0.25V237.80Q757.40 238.70 756.00 238.70Q754.65 238.70 754.65 237.80V220.60h-0.18V227.10Q754.65 228.00 753.75 228.00Q752.85 228.00 752.85 227.10V219.40Q752.85 217.80 754.45 217.80Z"/>
<circle cx="768.40" cy="215.00" r="2.1"/><path d="M765.25 217.80H771.55Q773.15 217.80 773.15 219.40V227.10Q773.15 228.00 772.25 228.00Q771.35 228.00 771.35 227.10V220.60h-0.18V237.80Q771.35 238.70 770.00 238.70Q768.60 238.70 768.60 237.80V228.60h-0.25V237.80Q768.20 238.70 766.80 238.70Q765.45 238.70 765.45 237.80V220.60h-0.18V227.10Q765.45 228.00 764.55 228.00Q763.65 228.00 763.65 227.10V219.40Q763.65 217.80 765.25 217.80Z"/>
<circle cx="779.20" cy="215.00" r="2.1"/><path d="M776.05 217.80H782.35Q783.95 217.80 783.95 219.40V227.10Q783.95 228.00 783.05 228.00Q782.15 228.00 782.15 227.10V220.60h-0.18V237.80Q782.15 238.70 780.80 238.70Q779.40 238.70 779.40 237.80V228.60h-0.25V237.80Q779.00 238.70 777.60 238.70Q776.25 238.70 776.25 237.80V220.60h-0.18V227.10Q776.25 228.00 775.35 228.00Q774.45 228.00 774.45 227.10V219.40Q774.45 217.80 776.05 217.80Z"/>
<circle cx="790.00" cy="215.00" r="2.1"/><path d="M786.85 217.80H793.15Q794.75 217.80 794.75 219.40V227.10Q794.75 228.00 793.85 228.00Q792.95 228.00 792.95 227.10V220.60h-0.18V237.80Q792.95 238.70 791.60 238.70Q790.20 238.70 790.20 237.80V228.60h-0.25V237.80Q789.80 238.70 788.40 238.70Q787.05 238.70 787.05 237.80V220.60h-0.18V227.10Q787.05 228.00 786.15 228.00Q785.25 228.00 785.25 227.10V219.40Q785.25 217.80 786.85 217.80Z"/>
<circle cx="800.80" cy="215.00" r="2.1"/><path d="M797.65 217.80H803.95Q805.55 217.80 805.55 219.40V227.10Q805.55 228.00 804.65 228.00Q803.75 228.00 803.75 227.10V220.60h-0.18V237.80Q803.75 238.70 802.40 238.70Q801.00 238.70 801.00 237.80V228.60h-0.25V237.80Q800.60 238.70 799.20 238.70Q797.85 238.70 797.85 237.80V220.60h-0.18V227.10Q797.85 228.00 796.95 228.00Q796.05 228.00 796.05 227.10V219.40Q796.05 217.80 797.65 217.80Z"/>
<circle cx="811.60" cy="215.00" r="2.1"/><path d="M808.45 217.80H814.75Q816.35 217.80 816.35 219.40V227.10Q816.35 228.00 815.45 228.00Q814.55 228.00 814.55 227.10V220.60h-0.18V237.80Q814.55 238.70 813.20 238.70Q811.80 238.70 811.80 237.80V228.60h-0.25V237.80Q811.40 238.70 810.00 238.70Q808.65 238.70 808.65 237.80V220.60h-0.18V227.10Q808.65 228.00 807.75 228.00Q806.85 228.00 806.85 227.10V219.40Q806.85 217.80 808.45 217.80Z"/>
<circle cx="822.40" cy="215.00" r="2.1"/><path d="M819.25 217.80H825.55Q827.15 217.80 827.15 219.40V227.10Q827.15 228.00 826.25 228.00Q825.35 228.00 825.35 227.10V220.60h-0.18V237.80Q825.35 238.70 824.00 238.70Q822.60 238.70 822.60 237.80V228.60h-0.25V237.80Q822.20 238.70 820.80 238.70Q819.45 238.70 819.45 237.80V220.60h-0.18V227.10Q819.45 228.00 818.55 228.00Q817.65 228.00 817.65 227.10V219.40Q817.65 217.80 819.25 217.80Z"/>
<circle cx="833.20" cy="215.00" r="2.1"/><path d="M830.05 217.80H836.35Q837.95 217.80 837.95 219.40V227.10Q837.95 228.00 837.05 228.00Q836.15 228.00 836.15 227.10V220.60h-0.18V237.80Q836.15 238.70 834.80 238.70Q833.40 238.70 833.40 237.80V228.60h-0.25V237.80Q833.00 238.70 831.60 238.70Q830.25 238.70 830.25 237.80V220.60h-0.18V227.10Q830.25 228.00 829.35 228.00Q828.45 228.00 828.45 227.10V219.40Q828.45 217.80 830.05 217.80Z"/>
<circle cx="844.00" cy="215.00" r="2.1"/><path d="M840.85 217.80H847.15Q848.75 217.80 848.75 219.40V227.10Q848.75 228.00 847.85 228.00Q846.95 228.00 846.95 227.10V220.60h-0.18V237.80Q846.95 238.70 845.60 238.70Q844.20 238.70 844.20 237.80V228.60h-0.25V237.80Q843.80 238.70 842.40 238.70Q841.05 238.70 841.05 237.80V220.60h-0.18V227.10Q841.05 228.00 840.15 228.00Q839.25 228.00 839.25 227.10V219.40Q839.25 217.80 840.85 217.80Z"/>
<circle cx="854.80" cy="215.00" r="2.1"/><path d="M851.65 217.80H857.95Q859.55 217.80 859.55 219.40V227.10Q859.55 228.00 858.65 228.00Q857.75 228.00 857.75 227.10V220.60h-0.18V237.80Q857.75 238.70 856.40 238.70Q855.00 238.70 855.00 237.80V228.60h-0.25V237.80Q854.60 238.70 853.20 238.70Q851.85 238.70 851.85 237.80V220.60h-0.18V227.10Q851.85 228.00 850.95 228.00Q850.05 228.00 850.05 227.10V219.40Q850.05 217.80 851.65 217.80Z"/>
<circle cx="649.60" cy="244.45" r="2.1"/><path d="M646.45 247.25H652.75Q654.35 247.25 654.35 248.85V256.55Q654.35 257.45 653.45 257.45Q652.55 257.45 652.55 256.55V250.05h-0.18V267.25Q652.55 268.15 651.20 268.15Q649.80 268.15 649.80 267.25V258.05h-0.25V267.25Q649.40 268.15 648.00 268.15Q646.65 268.15 646.65 267.25V250.05h-0.18V256.55Q646.65 257.45 645.75 257.45Q644.85 257.45 644.85 256.55V248.85Q644.85 247.25 646.45 247.25Z"/>
<circle cx="660.40" cy="244.45" r="2.1"/><path d="M657.25 247.25H663.55Q665.15 247.25 665.15 248.85V256.55Q665.15 257.45 664.25 257.45Q663.35 257.45 663.35 256.55V250.05h-0.18V267.25Q663.35 268.15 662.00 268.15Q660.60 268.15 660.60 267.25V258.05h-0.25V267.25Q660.20 268.15 658.80 268.15Q657.45 268.15 657.45 267.25V250.05h-0.18V256.55Q657.45 257.45 656.55 257.45Q655.65 257.45 655.65 256.55V248.85Q655.65 247.25 657.25 247.25Z"/>
<circle cx="671.20" cy="244.45" r="2.1"/><path d="M668.05 247.25H674.35Q675.95 247.25 675.95 248.85V256.55Q675.95 257.45 675.05 257.45Q674.15 257.45 674.15 256.55V250.05h-0.18V267.25Q674.15 268.15 672.80 268.15Q671.40 268.15 671.40 267.25V258.05h-0.25V267.25Q671.00 268.15 669.60 268.15Q668.25 268.15 668.25 267.25V250.05h-0.18V256.55Q668.25 257.45 667.35 257.45Q666.45 257.45 666.45 256.55V248.85Q666.45 247.25 668.05 247.25Z"/>
<circle cx="682.00" cy="244.45" r="2.1"/><path d="M678.85 247.25H685.15Q686.75 247.25 686.75 248.85V256.55Q686.75 257.45 685.85 257.45Q684.95 257.45 684.95 256.55V250.05h-0.18V267.25Q684.95 268.15 683.60 268.15Q682.20 268.15 682.20 267.25V258.05h-0.25V267.25Q681.80 268.15 680.40 268.15Q679.05 268.15 679.05 267.25V250.05h-0.18V256.55Q679.05 257.45 678.15 257.45Q677.25 257.45 677.25 256.55V248.85Q677.25 247.25 678.85 247.25Z"/>
<circle cx="692.80" cy="244.45" r="2.1"/><path d="M689.65 247.25H695.95Q697.55 247.25 697.55 248.85V256.55Q697.55 257.45 696.65 257.45Q695.75 257.45 695.75 256.55V250.05h-0.18V267.25Q695.75 268.15 694.40 268.15Q693.00 268.15 693.00 267.25V258.05h-0.25V267.25Q692.60 268.15 691.20 268.15Q689.85 268.15 689.85 267.25V250.05h-0.18V256.55Q689.85 257.45 688.95 257.45Q688.05 257.45 688.05 256.55V248.85Q688.05 247.25 689.65 247.25Z"/>
<circle cx="703.60" cy="244.45" r="2.1"/><path d="M700.45 247.25H706.75Q708.35 247.25 708.35 248.85V256.55Q708.35 257.45 707.45 257.45Q706.55 257.45 706.55 256.55V250.05h-0.18V267.25Q706.55 268.15 705.20 268.15Q703.80 268.15 703.80 267.25V258.05h-0.25V267.25Q703.40 268.15 702.00 268.15Q700.65 268.15 700.65 267.25V250.05h-0.18V256.55Q700.65 257.45 699.75 257.45Q698.85 257.45 698.85 256.55V248.85Q698.85 247.25 700.45 247.25Z"/>
<circle cx="714.40" cy="244.45" r="2.1"/><path d="M711.25 247.25H717.55Q719.15 247.25 719.15 248.85V256.55Q719.15 257.45 718.25 257.45Q717.35 257.45 717.35 256.55V250.05h-0.18V267.25Q717.35 268.15 716.00 268.15Q714.60 268.15 714.60 267.25V258.05h-0.25V267.25Q714.20 268.15 712.80 268.15Q711.45 268.15 711.45 267.25V250.05h-0.18V256.55Q711.45 257.45 710.55 257.45Q709.65 257.45 709.65 256.55V248.85Q709.65 247.25 711.25 247.25Z"/>
<circle cx="725.20" cy="244.45" r="2.1"/><path d="M722.05 247.25H728.35Q729.95 247.25 729.95 248.85V256.55Q729.95 257.45 729.05 257.45Q728.15 257.45 728.15 256.55V250.05h-0.18V267.25Q728.15 268.15 726.80 268.15Q725.40 268.15 725.40 267.25V258.05h-0.25V267.25Q725.00 268.15 723.60 268.15Q722.25 268.15 722.25 267.25V250.05h-0.18V256.55Q722.25 257.45 721.35 257.45Q720.45 257.45 720.45 256.55V248.85Q720.45 247.25 722.05 247.25Z"/>
<circle cx="736.00" cy="244.45" r="2.1"/><path d="M732.85 247.25H739.15Q740.75 247.25 740.75 248.85V256.55Q740.75 257.45 739.85 257.45Q738.95 257.45 738.95 256.55V250.05h-0.18V267.25Q738.95 268.15 737.60 268.15Q736.20 268.15 736.20 267.25V258.05h-0.25V267.25Q735.80 268.15 734.40 268.15Q733.05 268.15 733.05 267.25V250.05h-0.18V256.55Q733.05 257.45 732.15 257.45Q731.25 257.45 731.25 256.55V248.85Q731.25 247.25 732.85 247.25Z"/>
<circle cx="746.80" cy="244.45" r="2.1"/><path d="M743.65 247.25H749.95Q751.55 247.25 751.55 248.85V256.55Q751.55 257.45 750.65 257.45Q749.75 257.45 749.75 256.55V250.05h-0.18V267.25Q749.75 268.15 748.40 268.15Q747.00 268.15 747.00 267.25V258.05h-0.25V267.25Q746.60 268.15 745.20 268.15Q743.85 268.15 743.85 267.25V250.05h-0.18V256.55Q743.85 257.45 742.95 257.45Q742.05 257.45 742.05 256.55V248.85Q742.05 247.25 743.65 247.25Z"/>
<circle cx="757.60" cy="244.45" r="2.1"/><path d="M754.45 247.25H760.75Q762.35 247.25 762.35 248.85V256.55Q762.35 257.45 761.45 257.45Q760.55 257.45 760.55 256.55V250.05h-0.18V267.25Q760.55 268.15 759.20 268.15Q757.80 268.15 757.80 267.25V258.05h-0.25V267.25Q757.40 268.15 756.00 268.15Q754.65 268.15 754.65 267.25V250.05h-0.18V256.55Q754.65 257.45 753.75 257.45Q752.85 257.45 752.85 256.55V248.85Q752.85 247.25 754.45 247.25Z"/>
<circle cx="768.40" cy="244.45" r="2.1"/><path d="M765.25 247.25H771.55Q773.15 247.25 773.15 248.85V256.55Q773.15 257.45 772.25 257.45Q771.35 257.45 771.35 256.55V250.05h-0.18V267.25Q771.35 268.15 770.00 268.15Q768.60 268.15 768.60 267.25V258.05h-0.25V267.25Q768.20 268.15 766.80 268.15Q765.45 268.15 765.45 267.25V250.05h-0.18V256.55Q765.45 257.45 764.55 257.45Q763.65 257.45 763.65 256.55V248.85Q763.65 247.25 765.25 247.25Z"/>
<circle cx="779.20" cy="244.45" r="2.1"/><path d="M776.05 247.25H782.35Q783.95 247.25 783.95 248.85V256.55Q783.95 257.45 783.05 257.45Q782.15 257.45 782.15 256.55V250.05h-0.18V267.25Q782.15 268.15 780.80 268.15Q779.40 268.15 779.40 267.25V258.05h-0.25V267.25Q779.00 268.15 777.60 268.15Q776.25 268.15 776.25 267.25V250.05h-0.18V256.55Q776.25 257.45 775.35 257.45Q774.45 257.45 774.45 256.55V248.85Q774.45 247.25 776.05 247.25Z"/>
<circle cx="790.00" cy="244.45" r="2.1"/><path d="M786.85 247.25H793.15Q794.75 247.25 794.75 248.85V256.55Q794.75 257.45 793.85 257.45Q792.95 257.45 792.95 256.55V250.05h-0.18V267.25Q792.95 268.15 791.60 268.15Q790.20 268.15 790.20 267.25V258.05h-0.25V267.25Q789.80 268.15 788.40 268.15Q787.05 268.15 787.05 267.25V250.05h-0.18V256.55Q787.05 257.45 786.15 257.45Q785.25 257.45 785.25 256.55V248.85Q785.25 247.25 786.85 247.25Z"/>
<circle cx="800.80" cy="244.45" r="2.1"/><path d="M797.65 247.25H803.95Q805.55 247.25 805.55 248.85V256.55Q805.55 257.45 804.65 257.45Q803.75 257.45 803.75 256.55V250.05h-0.18V267.25Q803.75 268.15 802.40 268.15Q801.00 268.15 801.00 267.25V258.05h-0.25V267.25Q800.60 268.15 799.20 268.15Q797.85 268.15 797.85 267.25V250.05h-0.18V256.55Q797.85 257.45 796.95 257.45Q796.05 257.45 796.05 256.55V248.85Q796.05 247.25 797.65 247.25Z"/>
<circle cx="811.60" cy="244.45" r="2.1"/><path d="M808.45 247.25H814.75Q816.35 247.25 816.35 248.85V256.55Q816.35 257.45 815.45 257.45Q814.55 257.45 814.55 256.55V250.05h-0.18V267.25Q814.55 268.15 813.20 268.15Q811.80 268.15 811.80 267.25V258.05h-0.25V267.25Q811.40 268.15 810.00 268.15Q808.65 268.15 808.65 267.25V250.05h-0.18V256.55Q808.65 257.45 807.75 257.45Q806.85 257.45 806.85 256.55V248.85Q806.85 247.25 808.45 247.25Z"/>
<circle cx="822.40" cy="244.45" r="2.1"/><path d="M819.25 247.25H825.55Q827.15 247.25 827.15 248.85V256.55Q827.15 257.45 826.25 257.45Q825.35 257.45 825.35 256.55V250.05h-0.18V267.25Q825.35 268.15 824.00 268.15Q822.60 268.15 822.60 267.25V258.05h-0.25V267.25Q822.20 268.15 820.80 268.15Q819.45 268.15 819.45 267.25V250.05h-0.18V256.55Q819.45 257.45 818.55 257.45Q817.65 257.45 817.65 256.55V248.85Q817.65 247.25 819.25 247.25Z"/>
<circle cx="833.20" cy="244.45" r="2.1"/><path d="M830.05 247.25H836.35Q837.95 247.25 837.95 248.85V256.55Q837.95 257.45 837.05 257.45Q836.15 257.45 836.15 256.55V250.05h-0.18V267.25Q836.15 268.15 834.80 268.15Q833.40 268.15 833.40 267.25V258.05h-0.25V267.25Q833.00 268.15 831.60 268.15Q830.25 268.15 830.25 267.25V250.05h-0.18V256.55Q830.25 257.45 829.35 257.45Q828.45 257.45 828.45 256.55V248.85Q828.45 247.25 830.05 247.25Z"/>
<circle cx="844.00" cy="244.45" r="2.1"/><path d="M840.85 247.25H847.15Q848.75 247.25 848.75 248.85V256.55Q848.75 257.45 847.85 257.45Q846.95 257.45 846.95 256.55V250.05h-0.18V267.25Q846.95 268.15 845.60 268.15Q844.20 268.15 844.20 267.25V258.05h-0.25V267.25Q843.80 268.15 842.40 268.15Q841.05 268.15 841.05 267.25V250.05h-0.18V256.55Q841.05 257.45 840.15 257.45Q839.25 257.45 839.25 256.55V248.85Q839.25 247.25 840.85 247.25Z"/>
<circle cx="854.80" cy="244.45" r="2.1"/><path d="M851.65 247.25H857.95Q859.55 247.25 859.55 248.85V256.55Q859.55 257.45 858.65 257.45Q857.75 257.45 857.75 256.55V250.05h-0.18V267.25Q857.75 268.15 856.40 268.15Q855.00 268.15 855.00 267.25V258.05h-0.25V267.25Q854.60 268.15 853.20 268.15Q851.85 268.15 851.85 267.25V250.05h-0.18V256.55Q851.85 257.45 850.95 257.45Q850.05 257.45 850.05 256.55V248.85Q850.05 247.25 851.65 247.25Z"/>
<circle cx="649.60" cy="273.90" r="2.1"/><path d="M646.45 276.70H652.75Q654.35 276.70 654.35 278.30V286.00Q654.35 286.90 653.45 286.90Q652.55 286.90 652.55 286.00V279.50h-0.18V296.70Q652.55 297.60 651.20 297.60Q649.80 297.60 649.80 296.70V287.50h-0.25V296.70Q649.40 297.60 648.00 297.60Q646.65 297.60 646.65 296.70V279.50h-0.18V286.00Q646.65 286.90 645.75 286.90Q644.85 286.90 644.85 286.00V278.30Q644.85 276.70 646.45 276.70Z"/>
<circle cx="660.40" cy="273.90" r="2.1"/><path d="M657.25 276.70H663.55Q665.15 276.70 665.15 278.30V286.00Q665.15 286.90 664.25 286.90Q663.35 286.90 663.35 286.00V279.50h-0.18V296.70Q663.35 297.60 662.00 297.60Q660.60 297.60 660.60 296.70V287.50h-0.25V296.70Q660.20 297.60 658.80 297.60Q657.45 297.60 657.45 296.70V279.50h-0.18V286.00Q657.45 286.90 656.55 286.90Q655.65 286.90 655.65 286.00V278.30Q655.65 276.70 657.25 276.70Z"/>
<circle cx="671.20" cy="273.90" r="2.1"/><path d="M668.05 276.70H674.35Q675.95 276.70 675.95 278.30V286.00Q675.95 286.90 675.05 286.90Q674.15 286.90 674.15 286.00V279.50h-0.18V296.70Q674.15 297.60 672.80 297.60Q671.40 297.60 671.40 296.70V287.50h-0.25V296.70Q671.00 297.60 669.60 297.60Q668.25 297.60 668.25 296.70V279.50h-0.18V286.00Q668.25 286.90 667.35 286.90Q666.45 286.90 666.45 286.00V278.30Q666.45 276.70 668.05 276.70Z"/>
</g>
<text x="365.7" y="321.9" font-size="21.2" fill="#1c1c1c" font-weight="200" font-family="'DejaVu Sans Light', 'DejaVu Sans', sans-serif" textLength="25.1" lengthAdjust="spacingAndGlyphs" stroke="#1c1c1c" stroke-width="0.65">51</text>
<text x="596.1" y="321.9" font-size="21.2" fill="#1c1c1c" font-weight="200" font-family="'DejaVu Sans Light', 'DejaVu Sans', sans-serif" textLength="27.0" lengthAdjust="spacingAndGlyphs" stroke="#1c1c1c" stroke-width="0.65">69</text>
<text x="834.7" y="321.9" font-size="21.2" fill="#1c1c1c" font-weight="200" font-family="'DejaVu Sans Light', 'DejaVu Sans', sans-serif" textLength="26.2" lengthAdjust="spacingAndGlyphs" stroke="#1c1c1c" stroke-width="0.65">43</text>
<text x="366.8" y="409.7" font-size="21.2" fill="#1c1c1c" font-weight="200" font-family="'DejaVu Sans Light', 'DejaVu Sans', sans-serif" textLength="26.3" lengthAdjust="spacingAndGlyphs" stroke="#1c1c1c" stroke-width="0.65">15</text>
<text x="578.9" y="409.7" font-size="21.2" fill="#1c1c1c" font-weight="200" font-family="'DejaVu Sans Light', 'DejaVu Sans', sans-serif" textLength="42.5" lengthAdjust="spacingAndGlyphs" stroke="#1c1c1c" stroke-width="0.65">14.1</text>
<text x="817.1" y="409.7" font-size="21.2" fill="#1c1c1c" font-weight="200" font-family="'DejaVu Sans Light', 'DejaVu Sans', sans-serif" textLength="43.9" lengthAdjust="spacingAndGlyphs" stroke="#1c1c1c" stroke-width="0.65">18.7</text>
<text x="347.9" y="475.4" font-size="21.2" fill="#1c1c1c" font-weight="200" font-family="'DejaVu Sans Light', 'DejaVu Sans', sans-serif" textLength="44.9" lengthAdjust="spacingAndGlyphs" stroke="#1c1c1c" stroke-width="0.65">23.8</text>
<text x="596.8" y="475.4" font-size="21.2" fill="#1c1c1c" font-weight="200" font-family="'DejaVu Sans Light', 'DejaVu Sans', sans-serif" textLength="26.1" lengthAdjust="spacingAndGlyphs" stroke="#1c1c1c" stroke-width="0.65">22</text>
<text x="834.5" y="475.4" font-size="21.2" fill="#1c1c1c" font-weight="200" font-family="'DejaVu Sans Light', 'DejaVu Sans', sans-serif" textLength="24.9" lengthAdjust="spacingAndGlyphs" stroke="#1c1c1c" stroke-width="0.65">31</text>
<g fill="#e0e0e2">
<circle cx="187.00" cy="375.9" r="10.65"/>
<circle cx="208.60" cy="375.9" r="10.65"/>
<circle cx="230.20" cy="375.9" r="10.65"/>
<circle cx="251.80" cy="375.9" r="10.65"/>
<circle cx="273.40" cy="375.9" r="10.65"/>
<circle cx="295.00" cy="375.9" r="10.65"/>
<circle cx="316.60" cy="375.9" r="10.65"/>
<circle cx="338.20" cy="375.9" r="10.65"/>
<circle cx="359.80" cy="375.9" r="10.65"/>
<circle cx="381.40" cy="375.9" r="10.65"/>
</g>
<clipPath id="c1"><rect x="174.2" y="363.9" width="34.40" height="24"/></clipPath>
<g fill="#5a0a22" clip-path="url(#c1)">
<circle cx="187.00" cy="375.9" r="10.65"/>
<circle cx="208.60" cy="375.9" r="10.65"/>
</g>
<g fill="#e0e0e2">
<circle cx="416.80" cy="375.9" r="10.65"/>
<circle cx="438.40" cy="375.9" r="10.65"/>
<circle cx="460.00" cy="375.9" r="10.65"/>
<circle cx="481.60" cy="375.9" r="10.65"/>
<circle cx="503.20" cy="375.9" r="10.65"/>
<circle cx="524.80" cy="375.9" r="10.65"/>
<circle cx="546.40" cy="375.9" r="10.65"/>
<circle cx="568.00" cy="375.9" r="10.65"/>
<circle cx="589.60" cy="375.9" r="10.65"/>
<circle cx="611.20" cy="375.9" r="10.65"/>
</g>
<clipPath id="c2"><rect x="404.0" y="363.9" width="34.00" height="24"/></clipPath>
<g fill="#96002f" clip-path="url(#c2)">
<circle cx="416.80" cy="375.9" r="10.65"/>
<circle cx="438.40" cy="375.9" r="10.65"/>
</g>
<g fill="#e0e0e2">
<circle cx="655.10" cy="375.9" r="10.65"/>
<circle cx="676.70" cy="375.9" r="10.65"/>
<circle cx="698.30" cy="375.9" r="10.65"/>
<circle cx="719.90" cy="375.9" r="10.65"/>
<circle cx="741.50" cy="375.9" r="10.65"/>
<circle cx="763.10" cy="375.9" r="10.65"/>
<circle cx="784.70" cy="375.9" r="10.65"/>
<circle cx="806.30" cy="375.9" r="10.65"/>
<circle cx="827.90" cy="375.9" r="10.65"/>
<circle cx="849.50" cy="375.9" r="10.65"/>
</g>
<clipPath id="c3"><rect x="642.3" y="363.9" width="37.70" height="24"/></clipPath>
<g fill="#e5194a" clip-path="url(#c3)">
<circle cx="655.10" cy="375.9" r="10.65"/>
<circle cx="676.70" cy="375.9" r="10.65"/>
</g>
<g fill="#e0e0e2">
<circle cx="187.00" cy="441.7" r="10.65"/>
<circle cx="208.60" cy="441.7" r="10.65"/>
<circle cx="230.20" cy="441.7" r="10.65"/>
<circle cx="251.80" cy="441.7" r="10.65"/>
<circle cx="273.40" cy="441.7" r="10.65"/>
<circle cx="295.00" cy="441.7" r="10.65"/>
<circle cx="316.60" cy="441.7" r="10.65"/>
<circle cx="338.20" cy="441.7" r="10.65"/>
<circle cx="359.80" cy="441.7" r="10.65"/>
<circle cx="381.40" cy="441.7" r="10.65"/>
</g>
<clipPath id="c4"><rect x="174.2" y="429.7" width="53.80" height="24"/></clipPath>
<g fill="#5a0a22" clip-path="url(#c4)">
<circle cx="187.00" cy="441.7" r="10.65"/>
<circle cx="208.60" cy="441.7" r="10.65"/>
<circle cx="230.20" cy="441.7" r="10.65"/>
</g>
<g fill="#e0e0e2">
<circle cx="416.80" cy="441.7" r="10.65"/>
<circle cx="438.40" cy="441.7" r="10.65"/>
<circle cx="460.00" cy="441.7" r="10.65"/>
<circle cx="481.60" cy="441.7" r="10.65"/>
<circle cx="503.20" cy="441.7" r="10.65"/>
<circle cx="524.80" cy="441.7" r="10.65"/>
<circle cx="546.40" cy="441.7" r="10.65"/>
<circle cx="568.00" cy="441.7" r="10.65"/>
<circle cx="589.60" cy="441.7" r="10.65"/>
<circle cx="611.20" cy="441.7" r="10.65"/>
</g>
<clipPath id="c5"><rect x="404.0" y="429.7" width="50.70" height="24"/></clipPath>
<g fill="#96002f" clip-path="url(#c5)">
<circle cx="416.80" cy="441.7" r="10.65"/>
<circle cx="438.40" cy="441.7" r="10.65"/>
<circle cx="460.00" cy="441.7" r="10.65"/>
</g>
<g fill="#e0e0e2">
<circle cx="655.10" cy="441.7" r="10.65"/>
<circle cx="676.70" cy="441.7" r="10.65"/>
<circle cx="698.30" cy="441.7" r="10.65"/>
<circle cx="719.90" cy="441.7" r="10.65"/>
<circle cx="741.50" cy="441.7" r="10.65"/>
<circle cx="763.10" cy="441.7" r="10.65"/>
<circle cx="784.70" cy="441.7" r="10.65"/>
<circle cx="806.30" cy="441.7" r="10.65"/>
<circle cx="827.90" cy="441.7" r="10.65"/>
<circle cx="849.50" cy="441.7" r="10.65"/>
</g>
<clipPath id="c6"><rect x="642.3" y="429.7" width="70.50" height="24"/></clipPath>
<g fill="#e5194a" clip-path="url(#c6)">
<circle cx="655.10" cy="441.7" r="10.65"/>
<circle cx="676.70" cy="441.7" r="10.65"/>
<circle cx="698.30" cy="441.7" r="10.65"/>
<circle cx="719.90" cy="441.7" r="10.65"/>
</g>
<g fill="none" stroke="#5a0a22" stroke-width="1.35">
<ellipse cx="378.1" cy="193.3" rx="5.9" ry="15.6" transform="rotate(0 378.1 193.3)"/>
<ellipse cx="378.1" cy="193.3" rx="5.9" ry="15.6" transform="rotate(60 378.1 193.3)"/>
<ellipse cx="378.1" cy="193.3" rx="5.9" ry="15.6" transform="rotate(120 378.1 193.3)"/>
<circle cx="378.1" cy="193.3" r="1.75" stroke-width="1.5"/>
</g>
<path fill="#96002f" fill-rule="evenodd" d="M603.4 176.9h9.6a1.45 1.45 0 0 1 0 2.9h-1v6.4l8.6 15.2q1.6 3.3-2 3.3h-20.8q-3.6 0-2-3.3l8.6-15.2v-6.4h-1a1.45 1.45 0 0 1 0-2.9zM607 179.8v7.2l-4.7 8.3h11.8l-4.7-8.3v-7.2z"/>
<text x="825.9" y="206.1" font-size="61.5" fill="#e5194a" font-family="'Liberation Serif', serif">π</text>
<line x1="164.2" y1="501.7" x2="861" y2="501.7" stroke="#a2a2a2" stroke-width="1.5" stroke-dasharray="1.2 1.13"/>
<text y="536.7" font-size="20" fill="#1c1c1c" font-family="'Liberation Sans', sans-serif"><tspan x="169.5" textLength="88.0" lengthAdjust="spacingAndGlyphs">Percentage</tspan> <tspan x="263.2" textLength="15.0" lengthAdjust="spacingAndGlyphs">of</tspan> <tspan x="283.5" textLength="48.5" lengthAdjust="spacingAndGlyphs">Nobel</tspan> <tspan x="336.9" textLength="39.6" lengthAdjust="spacingAndGlyphs">Prize</tspan> <tspan x="381.7" textLength="60.9" lengthAdjust="spacingAndGlyphs">winners</tspan> <tspan x="447.9" textLength="15.4" lengthAdjust="spacingAndGlyphs">in</tspan> <tspan x="468.2" textLength="59.2" lengthAdjust="spacingAndGlyphs">physics</tspan> <tspan x="533.2" textLength="29.6" lengthAdjust="spacingAndGlyphs">and</tspan> <tspan x="568.2" textLength="82.7" lengthAdjust="spacingAndGlyphs">chemistry,</tspan></text>
<text y="558.7" font-size="20" fill="#1c1c1c" font-family="'Liberation Sans', sans-serif"><tspan x="169.9" textLength="16.9" lengthAdjust="spacingAndGlyphs">by</tspan> <tspan x="192.5" textLength="58.2" lengthAdjust="spacingAndGlyphs">country</tspan> <tspan x="256.9" textLength="15.3" lengthAdjust="spacingAndGlyphs">of</tspan> <tspan x="278.2" textLength="74.6" lengthAdjust="spacingAndGlyphs">university</tspan> <tspan x="359.2" textLength="78.1" lengthAdjust="spacingAndGlyphs">affiliation</tspan></text>
<line x1="200" y1="589.5" x2="854.5" y2="589.5" stroke="#cfcfcf" stroke-width="1" stroke-dasharray="1 2.7"/>
<text x="174.9" y="594.8" font-size="14.2" fill="#1c1c1c" font-family="'Liberation Sans', sans-serif" textLength="16.1" lengthAdjust="spacingAndGlyphs">50</text>
<line x1="200" y1="629.2" x2="854.5" y2="629.2" stroke="#cfcfcf" stroke-width="1" stroke-dasharray="1 2.7"/>
<text x="174.2" y="634.1" font-size="14.2" fill="#1c1c1c" font-family="'Liberation Sans', sans-serif" textLength="16.9" lengthAdjust="spacingAndGlyphs">40</text>
<line x1="200" y1="668.4" x2="854.5" y2="668.4" stroke="#cfcfcf" stroke-width="1" stroke-dasharray="1 2.7"/>
<text x="173.8" y="673.0" font-size="14.2" fill="#1c1c1c" font-family="'Liberation Sans', sans-serif" textLength="17.4" lengthAdjust="spacingAndGlyphs">30</text>
<line x1="200" y1="708.3" x2="854.5" y2="708.3" stroke="#cfcfcf" stroke-width="1" stroke-dasharray="1 2.7"/>
<text x="173.8" y="713.9" font-size="14.2" fill="#1c1c1c" font-family="'Liberation Sans', sans-serif" textLength="17.3" lengthAdjust="spacingAndGlyphs">20</text>
<line x1="200" y1="747.4" x2="854.5" y2="747.4" stroke="#cfcfcf" stroke-width="1" stroke-dasharray="1 2.7"/>
<text x="174.3" y="752.1" font-size="14.2" fill="#1c1c1c" font-family="'Liberation Sans', sans-serif" textLength="16.2" lengthAdjust="spacingAndGlyphs">10</text>
<path d="M199.8 792H849" stroke="#d6d6d6" stroke-width="1.3" fill="none"/>
<line x1="231.8" y1="792" x2="231.8" y2="796.3" stroke="#d0d0d0" stroke-width="1.2"/>
<text x="204.8" y="811.8" font-size="14.2" fill="#1c1c1c" font-family="'Liberation Sans', sans-serif" textLength="53.9" lengthAdjust="spacingAndGlyphs">1901–10</text>
<line x1="318.4" y1="792" x2="318.4" y2="796.3" stroke="#d0d0d0" stroke-width="1.2"/>
<text x="291.4" y="811.8" font-size="14.2" fill="#1c1c1c" font-family="'Liberation Sans', sans-serif" textLength="53.9" lengthAdjust="spacingAndGlyphs">1911–20</text>
<line x1="405.0" y1="792" x2="405.0" y2="796.3" stroke="#d0d0d0" stroke-width="1.2"/>
<text x="378.1" y="811.8" font-size="14.2" fill="#1c1c1c" font-family="'Liberation Sans', sans-serif" textLength="53.9" lengthAdjust="spacingAndGlyphs">1921–30</text>
<line x1="491.7" y1="792" x2="491.7" y2="796.3" stroke="#d0d0d0" stroke-width="1.2"/>
<text x="464.7" y="811.8" font-size="14.2" fill="#1c1c1c" font-family="'Liberation Sans', sans-serif" textLength="53.9" lengthAdjust="spacingAndGlyphs">1931–40</text>
<line x1="578.3" y1="792" x2="578.3" y2="796.3" stroke="#d0d0d0" stroke-width="1.2"/>
<text x="551.3" y="811.8" font-size="14.2" fill="#1c1c1c" font-family="'Liberation Sans', sans-serif" textLength="53.9" lengthAdjust="spacingAndGlyphs">1941–50</text>
<line x1="664.9" y1="792" x2="664.9" y2="796.3" stroke="#d0d0d0" stroke-width="1.2"/>
<text x="637.9" y="811.8" font-size="14.2" fill="#1c1c1c" font-family="'Liberation Sans', sans-serif" textLength="53.9" lengthAdjust="spacingAndGlyphs">1951–60</text>
<line x1="751.5" y1="792" x2="751.5" y2="796.3" stroke="#d0d0d0" stroke-width="1.2"/>
<text x="724.6" y="811.8" font-size="14.2" fill="#1c1c1c" font-family="'Liberation Sans', sans-serif" textLength="53.9" lengthAdjust="spacingAndGlyphs">1961–70</text>
<line x1="838.1" y1="792" x2="838.1" y2="796.3" stroke="#d0d0d0" stroke-width="1.2"/>
<text x="811.2" y="811.8" font-size="14.2" fill="#1c1c1c" font-family="'Liberation Sans', sans-serif" textLength="53.9" lengthAdjust="spacingAndGlyphs">1971–80</text>
<polyline points="231.8,698.9 318.4,736.2 405.0,708.4 491.7,723.9 578.3,687.8 664.9,698.0 751.5,727.1 838.1,679.2" fill="none" stroke="#e2c06e" stroke-width="3.9" stroke-dasharray="3.5 3.8" stroke-linejoin="round"/>
<polyline points="231.8,619.4 318.4,614.1 405.0,648.9 491.7,652.0 578.3,737.6 664.9,757.1 751.5,762.4 838.1,768.1" fill="none" stroke="#c6932a" stroke-width="3.9" stroke-dasharray="3.5 3.8" stroke-linejoin="round"/>
<polyline points="231.8,667.9 318.4,639.1 405.0,639.1 491.7,688.7 578.3,688.7 664.9,707.9 751.5,672.1 838.1,726.0" fill="none" stroke="#b8642a" stroke-width="3.9" stroke-dasharray="3.5 3.8" stroke-linejoin="round"/>
<polyline points="231.8,767.7 318.4,762.1 405.0,757.0 491.7,688.4 578.3,639.5 664.9,589.6 751.5,592.1 838.1,581.3" fill="none" stroke="#f9c62d" stroke-width="3.9" stroke-dasharray="3.5 3.8" stroke-linejoin="round"/>
<text x="820.5" y="602.7" font-size="13.9" fill="#f9c62d" font-weight="bold" font-family="'Liberation Sans', sans-serif" textLength="21.9" lengthAdjust="spacingAndGlyphs" stroke="#f9c62d" stroke-width="0.5">USA</text>
<text x="827.5" y="663.8" font-size="13.9" fill="#e2c06e" font-weight="bold" font-family="'Liberation Sans', sans-serif" textLength="14.7" lengthAdjust="spacingAndGlyphs" stroke="#e2c06e" stroke-width="0.5">UK</text>
<text x="814.6" y="706.7" font-size="13.9" fill="#b8642a" font-weight="bold" font-family="'Liberation Sans', sans-serif" textLength="27.7" lengthAdjust="spacingAndGlyphs" stroke="#b8642a" stroke-width="0.5">Other</text>
<text x="785.7" y="742.8" font-size="13.9" fill="#c6932a" font-weight="bold" font-family="'Liberation Sans', sans-serif" textLength="56.9" lengthAdjust="spacingAndGlyphs" stroke="#c6932a" stroke-width="0.5">Germany +</text>
<text x="805.0" y="757.8" font-size="13.9" fill="#c6932a" font-weight="bold" font-family="'Liberation Sans', sans-serif" textLength="37.1" lengthAdjust="spacingAndGlyphs" stroke="#c6932a" stroke-width="0.5">Austria</text>
<text y="841.8" font-size="12.8" fill="#3c3c3c" font-family="'Liberation Serif', serif" stroke="#3c3c3c" stroke-width="0.2"><tspan x="175.8" textLength="39.8" lengthAdjust="spacingAndGlyphs">Source:</tspan> <tspan x="217.9" textLength="52.1" lengthAdjust="spacingAndGlyphs">Waldinger</tspan> <tspan x="272.5" textLength="41.5" lengthAdjust="spacingAndGlyphs">(bottom</tspan> <tspan x="317.4" textLength="25.6" lengthAdjust="spacingAndGlyphs">chart</tspan> <tspan x="346.7" textLength="25.7" lengthAdjust="spacingAndGlyphs">from</tspan> <tspan x="376.3" textLength="73.7" lengthAdjust="spacingAndGlyphs">working-paper</tspan> <tspan x="454.8" textLength="41.7" lengthAdjust="spacingAndGlyphs">version)</tspan></text>
</svg>
</body></html>
